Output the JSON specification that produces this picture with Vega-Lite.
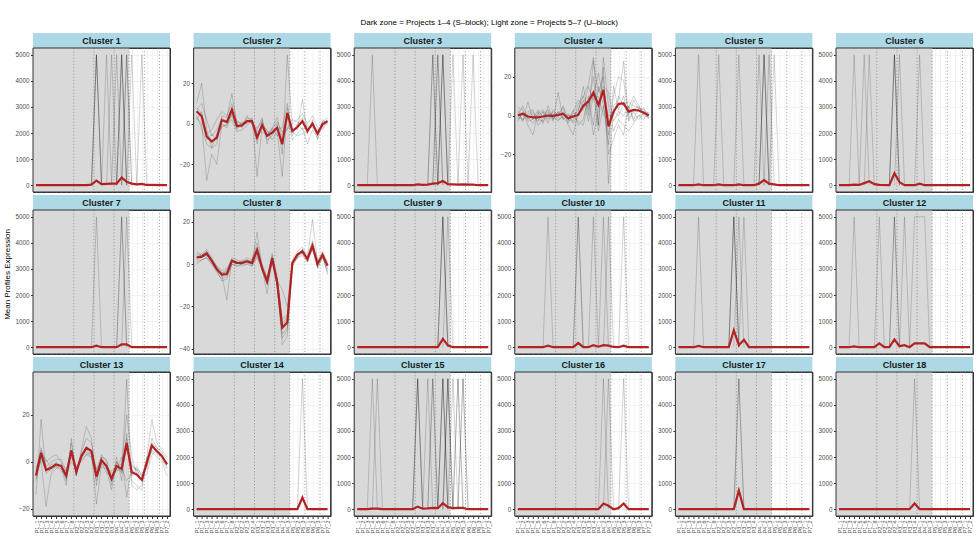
{
"$schema":"https://vega.github.io/schema/vega-lite/v6.json",
"background":"white",
"padding":{"left":3,"top":19,"right":3,"bottom":3},
"title":{"text":"Dark zone = Projects 1–4 (S–block); Light zone = Projects 5–7 (U–block)","fontSize":8,"fontWeight":"normal","color":"#000000","anchor":"middle","offset":6,"font":"Liberation Sans"},
"datasets":{
"zone":[{"x":-0.6,"x2":18.5}],
"frame":[{"x":-0.6,"x2":26.6}],
"sep":[{"x":7.5},{"x":11.5},{"x":15.5},{"x":18.5},{"x":21.5},{"x":24.5}],
"g":[
{"c":2,"g":1,"x":0,"y":10},{"c":2,"g":1,"x":1,"y":20},{"c":2,"g":1,"x":2,"y":-3},{"c":2,"g":1,"x":3,"y":-12},{"c":2,"g":1,"x":4,"y":-10},{"c":2,"g":1,"x":5,"y":4},{"c":2,"g":1,"x":6,"y":3},{"c":2,"g":1,"x":7,"y":15},{"c":2,"g":1,"x":8,"y":0},{"c":2,"g":1,"x":9,"y":-2},{"c":2,"g":1,"x":10,"y":3},{"c":2,"g":1,"x":11,"y":2},{"c":2,"g":1,"x":12,"y":-10},{"c":2,"g":1,"x":13,"y":2},{"c":2,"g":1,"x":14,"y":-8},{"c":2,"g":1,"x":15,"y":-6},{"c":2,"g":1,"x":16,"y":0},{"c":2,"g":1,"x":17,"y":-15},{"c":2,"g":1,"x":18,"y":34},{"c":2,"g":1,"x":19,"y":-2},{"c":2,"g":1,"x":20,"y":-3},{"c":2,"g":1,"x":21,"y":12},{"c":2,"g":1,"x":22,"y":-5},{"c":2,"g":1,"x":23,"y":2},{"c":2,"g":1,"x":24,"y":-8},{"c":2,"g":1,"x":25,"y":1},{"c":2,"g":1,"x":26,"y":3},
{"c":2,"g":2,"x":0,"y":3},{"c":2,"g":2,"x":1,"y":0},{"c":2,"g":2,"x":2,"y":-28},{"c":2,"g":2,"x":3,"y":-15},{"c":2,"g":2,"x":4,"y":-20},{"c":2,"g":2,"x":5,"y":0},{"c":2,"g":2,"x":6,"y":-2},{"c":2,"g":2,"x":7,"y":5},{"c":2,"g":2,"x":8,"y":-3},{"c":2,"g":2,"x":9,"y":1},{"c":2,"g":2,"x":10,"y":0},{"c":2,"g":2,"x":11,"y":3},{"c":2,"g":2,"x":12,"y":-26},{"c":2,"g":2,"x":13,"y":-1},{"c":2,"g":2,"x":14,"y":-3},{"c":2,"g":2,"x":15,"y":-8},{"c":2,"g":2,"x":16,"y":-4},{"c":2,"g":2,"x":17,"y":-26},{"c":2,"g":2,"x":18,"y":8},{"c":2,"g":2,"x":19,"y":-6},{"c":2,"g":2,"x":20,"y":0},{"c":2,"g":2,"x":21,"y":3},{"c":2,"g":2,"x":22,"y":-2},{"c":2,"g":2,"x":23,"y":-1},{"c":2,"g":2,"x":24,"y":-3},{"c":2,"g":2,"x":25,"y":-2},{"c":2,"g":2,"x":26,"y":2},
{"c":2,"g":3,"x":0,"y":8},{"c":2,"g":3,"x":1,"y":5},{"c":2,"g":3,"x":2,"y":-5},{"c":2,"g":3,"x":3,"y":-3},{"c":2,"g":3,"x":4,"y":2},{"c":2,"g":3,"x":5,"y":6},{"c":2,"g":3,"x":6,"y":4},{"c":2,"g":3,"x":7,"y":10},{"c":2,"g":3,"x":8,"y":1},{"c":2,"g":3,"x":9,"y":0},{"c":2,"g":3,"x":10,"y":2},{"c":2,"g":3,"x":11,"y":0},{"c":2,"g":3,"x":12,"y":-3},{"c":2,"g":3,"x":13,"y":3},{"c":2,"g":3,"x":14,"y":-10},{"c":2,"g":3,"x":15,"y":-2},{"c":2,"g":3,"x":16,"y":-6},{"c":2,"g":3,"x":17,"y":-5},{"c":2,"g":3,"x":18,"y":3},{"c":2,"g":3,"x":19,"y":-8},{"c":2,"g":3,"x":20,"y":-5},{"c":2,"g":3,"x":21,"y":-2},{"c":2,"g":3,"x":22,"y":-10},{"c":2,"g":3,"x":23,"y":-3},{"c":2,"g":3,"x":24,"y":-7},{"c":2,"g":3,"x":25,"y":2},{"c":2,"g":3,"x":26,"y":0},
{"c":2,"g":4,"x":0,"y":4},{"c":2,"g":4,"x":1,"y":-2},{"c":2,"g":4,"x":2,"y":-10},{"c":2,"g":4,"x":3,"y":-12},{"c":2,"g":4,"x":4,"y":-5},{"c":2,"g":4,"x":5,"y":-2},{"c":2,"g":4,"x":6,"y":0},{"c":2,"g":4,"x":7,"y":2},{"c":2,"g":4,"x":8,"y":-4},{"c":2,"g":4,"x":9,"y":-3},{"c":2,"g":4,"x":10,"y":-1},{"c":2,"g":4,"x":11,"y":2},{"c":2,"g":4,"x":12,"y":-5},{"c":2,"g":4,"x":13,"y":-4},{"c":2,"g":4,"x":14,"y":-6},{"c":2,"g":4,"x":15,"y":-2},{"c":2,"g":4,"x":16,"y":3},{"c":2,"g":4,"x":17,"y":-8},{"c":2,"g":4,"x":18,"y":-2},{"c":2,"g":4,"x":19,"y":0},{"c":2,"g":4,"x":20,"y":2},{"c":2,"g":4,"x":21,"y":5},{"c":2,"g":4,"x":22,"y":0},{"c":2,"g":4,"x":23,"y":4},{"c":2,"g":4,"x":24,"y":-2},{"c":2,"g":4,"x":25,"y":-3},{"c":2,"g":4,"x":26,"y":1},
{"c":2,"g":5,"x":0,"y":7},{"c":2,"g":5,"x":1,"y":10},{"c":2,"g":5,"x":2,"y":2},{"c":2,"g":5,"x":3,"y":-6},{"c":2,"g":5,"x":4,"y":-3},{"c":2,"g":5,"x":5,"y":3},{"c":2,"g":5,"x":6,"y":1},{"c":2,"g":5,"x":7,"y":4},{"c":2,"g":5,"x":8,"y":-2},{"c":2,"g":5,"x":9,"y":-1},{"c":2,"g":5,"x":10,"y":4},{"c":2,"g":5,"x":11,"y":0},{"c":2,"g":5,"x":12,"y":-2},{"c":2,"g":5,"x":13,"y":1},{"c":2,"g":5,"x":14,"y":-4},{"c":2,"g":5,"x":15,"y":-5},{"c":2,"g":5,"x":16,"y":-3},{"c":2,"g":5,"x":17,"y":-2},{"c":2,"g":5,"x":18,"y":10},{"c":2,"g":5,"x":19,"y":-4},{"c":2,"g":5,"x":20,"y":-6},{"c":2,"g":5,"x":21,"y":-5},{"c":2,"g":5,"x":22,"y":-4},{"c":2,"g":5,"x":23,"y":1},{"c":2,"g":5,"x":24,"y":-5},{"c":2,"g":5,"x":25,"y":0},{"c":2,"g":5,"x":26,"y":2},
{"c":2,"g":6,"x":0,"y":2},{"c":2,"g":6,"x":1,"y":6},{"c":2,"g":6,"x":2,"y":-8},{"c":2,"g":6,"x":3,"y":-5},{"c":2,"g":6,"x":4,"y":-8},{"c":2,"g":6,"x":5,"y":-1},{"c":2,"g":6,"x":6,"y":-1},{"c":2,"g":6,"x":7,"y":6},{"c":2,"g":6,"x":8,"y":1},{"c":2,"g":6,"x":9,"y":0},{"c":2,"g":6,"x":10,"y":1},{"c":2,"g":6,"x":11,"y":1},{"c":2,"g":6,"x":12,"y":-4},{"c":2,"g":6,"x":13,"y":-2},{"c":2,"g":6,"x":14,"y":-5},{"c":2,"g":6,"x":15,"y":-3},{"c":2,"g":6,"x":16,"y":1},{"c":2,"g":6,"x":17,"y":-4},{"c":2,"g":6,"x":18,"y":-3},{"c":2,"g":6,"x":19,"y":2},{"c":2,"g":6,"x":20,"y":1},{"c":2,"g":6,"x":21,"y":-3},{"c":2,"g":6,"x":22,"y":-1},{"c":2,"g":6,"x":23,"y":-2},{"c":2,"g":6,"x":24,"y":-4},{"c":2,"g":6,"x":25,"y":1},{"c":2,"g":6,"x":26,"y":1},
{"c":4,"g":1,"x":0,"y":2},{"c":4,"g":1,"x":1,"y":-3},{"c":4,"g":1,"x":2,"y":7},{"c":4,"g":1,"x":3,"y":-2},{"c":4,"g":1,"x":4,"y":3},{"c":4,"g":1,"x":5,"y":-1},{"c":4,"g":1,"x":6,"y":2},{"c":4,"g":1,"x":7,"y":-3},{"c":4,"g":1,"x":8,"y":12},{"c":4,"g":1,"x":9,"y":-2},{"c":4,"g":1,"x":10,"y":0},{"c":4,"g":1,"x":11,"y":-1},{"c":4,"g":1,"x":12,"y":3},{"c":4,"g":1,"x":13,"y":10},{"c":4,"g":1,"x":14,"y":16},{"c":4,"g":1,"x":15,"y":30},{"c":4,"g":1,"x":16,"y":-5},{"c":4,"g":1,"x":17,"y":25},{"c":4,"g":1,"x":18,"y":-35},{"c":4,"g":1,"x":19,"y":5},{"c":4,"g":1,"x":20,"y":8},{"c":4,"g":1,"x":21,"y":28},{"c":4,"g":1,"x":22,"y":-2},{"c":4,"g":1,"x":23,"y":3},{"c":4,"g":1,"x":24,"y":5},{"c":4,"g":1,"x":25,"y":2},{"c":4,"g":1,"x":26,"y":1},
{"c":4,"g":2,"x":0,"y":-3},{"c":4,"g":2,"x":1,"y":2},{"c":4,"g":2,"x":2,"y":-5},{"c":4,"g":2,"x":3,"y":-10},{"c":4,"g":2,"x":4,"y":2},{"c":4,"g":2,"x":5,"y":-4},{"c":4,"g":2,"x":6,"y":5},{"c":4,"g":2,"x":7,"y":-2},{"c":4,"g":2,"x":8,"y":1},{"c":4,"g":2,"x":9,"y":4},{"c":4,"g":2,"x":10,"y":-5},{"c":4,"g":2,"x":11,"y":-10},{"c":4,"g":2,"x":12,"y":2},{"c":4,"g":2,"x":13,"y":15},{"c":4,"g":2,"x":14,"y":0},{"c":4,"g":2,"x":15,"y":28},{"c":4,"g":2,"x":16,"y":12},{"c":4,"g":2,"x":17,"y":20},{"c":4,"g":2,"x":18,"y":-20},{"c":4,"g":2,"x":19,"y":-12},{"c":4,"g":2,"x":20,"y":-5},{"c":4,"g":2,"x":21,"y":-10},{"c":4,"g":2,"x":22,"y":5},{"c":4,"g":2,"x":23,"y":-3},{"c":4,"g":2,"x":24,"y":0},{"c":4,"g":2,"x":25,"y":1},{"c":4,"g":2,"x":26,"y":-1},
{"c":4,"g":3,"x":0,"y":0},{"c":4,"g":3,"x":1,"y":5},{"c":4,"g":3,"x":2,"y":-2},{"c":4,"g":3,"x":3,"y":0},{"c":4,"g":3,"x":4,"y":-3},{"c":4,"g":3,"x":5,"y":2},{"c":4,"g":3,"x":6,"y":-4},{"c":4,"g":3,"x":7,"y":3},{"c":4,"g":3,"x":8,"y":0},{"c":4,"g":3,"x":9,"y":2},{"c":4,"g":3,"x":10,"y":-3},{"c":4,"g":3,"x":11,"y":3},{"c":4,"g":3,"x":12,"y":-5},{"c":4,"g":3,"x":13,"y":-2},{"c":4,"g":3,"x":14,"y":10},{"c":4,"g":3,"x":15,"y":-5},{"c":4,"g":3,"x":16,"y":15},{"c":4,"g":3,"x":17,"y":5},{"c":4,"g":3,"x":18,"y":-10},{"c":4,"g":3,"x":19,"y":10},{"c":4,"g":3,"x":20,"y":20},{"c":4,"g":3,"x":21,"y":18},{"c":4,"g":3,"x":22,"y":0},{"c":4,"g":3,"x":23,"y":8},{"c":4,"g":3,"x":24,"y":3},{"c":4,"g":3,"x":25,"y":4},{"c":4,"g":3,"x":26,"y":-2},
{"c":4,"g":4,"x":0,"y":3},{"c":4,"g":4,"x":1,"y":0},{"c":4,"g":4,"x":2,"y":2},{"c":4,"g":4,"x":3,"y":3},{"c":4,"g":4,"x":4,"y":-5},{"c":4,"g":4,"x":5,"y":-2},{"c":4,"g":4,"x":6,"y":1},{"c":4,"g":4,"x":7,"y":0},{"c":4,"g":4,"x":8,"y":-3},{"c":4,"g":4,"x":9,"y":1},{"c":4,"g":4,"x":10,"y":-2},{"c":4,"g":4,"x":11,"y":2},{"c":4,"g":4,"x":12,"y":8},{"c":4,"g":4,"x":13,"y":5},{"c":4,"g":4,"x":14,"y":5},{"c":4,"g":4,"x":15,"y":20},{"c":4,"g":4,"x":16,"y":-5},{"c":4,"g":4,"x":17,"y":30},{"c":4,"g":4,"x":18,"y":5},{"c":4,"g":4,"x":19,"y":-8},{"c":4,"g":4,"x":20,"y":-2},{"c":4,"g":4,"x":21,"y":-5},{"c":4,"g":4,"x":22,"y":-8},{"c":4,"g":4,"x":23,"y":-4},{"c":4,"g":4,"x":24,"y":0},{"c":4,"g":4,"x":25,"y":-2},{"c":4,"g":4,"x":26,"y":2},
{"c":4,"g":5,"x":0,"y":-2},{"c":4,"g":5,"x":1,"y":1},{"c":4,"g":5,"x":2,"y":-1},{"c":4,"g":5,"x":3,"y":-4},{"c":4,"g":5,"x":4,"y":0},{"c":4,"g":5,"x":5,"y":2},{"c":4,"g":5,"x":6,"y":-2},{"c":4,"g":5,"x":7,"y":1},{"c":4,"g":5,"x":8,"y":-2},{"c":4,"g":5,"x":9,"y":-1},{"c":4,"g":5,"x":10,"y":1},{"c":4,"g":5,"x":11,"y":-4},{"c":4,"g":5,"x":12,"y":0},{"c":4,"g":5,"x":13,"y":8},{"c":4,"g":5,"x":14,"y":-3},{"c":4,"g":5,"x":15,"y":10},{"c":4,"g":5,"x":16,"y":22},{"c":4,"g":5,"x":17,"y":8},{"c":4,"g":5,"x":18,"y":0},{"c":4,"g":5,"x":19,"y":0},{"c":4,"g":5,"x":20,"y":10},{"c":4,"g":5,"x":21,"y":5},{"c":4,"g":5,"x":22,"y":4},{"c":4,"g":5,"x":23,"y":10},{"c":4,"g":5,"x":24,"y":5},{"c":4,"g":5,"x":25,"y":0},{"c":4,"g":5,"x":26,"y":-1},
{"c":4,"g":6,"x":0,"y":1},{"c":4,"g":6,"x":1,"y":-2},{"c":4,"g":6,"x":2,"y":0},{"c":4,"g":6,"x":3,"y":1},{"c":4,"g":6,"x":4,"y":-2},{"c":4,"g":6,"x":5,"y":-3},{"c":4,"g":6,"x":6,"y":0},{"c":4,"g":6,"x":7,"y":-1},{"c":4,"g":6,"x":8,"y":2},{"c":4,"g":6,"x":9,"y":-2},{"c":4,"g":6,"x":10,"y":0},{"c":4,"g":6,"x":11,"y":0},{"c":4,"g":6,"x":12,"y":-3},{"c":4,"g":6,"x":13,"y":-5},{"c":4,"g":6,"x":14,"y":8},{"c":4,"g":6,"x":15,"y":-10},{"c":4,"g":6,"x":16,"y":2},{"c":4,"g":6,"x":17,"y":15},{"c":4,"g":6,"x":18,"y":12},{"c":4,"g":6,"x":19,"y":-3},{"c":4,"g":6,"x":20,"y":2},{"c":4,"g":6,"x":21,"y":0},{"c":4,"g":6,"x":22,"y":5},{"c":4,"g":6,"x":23,"y":-2},{"c":4,"g":6,"x":24,"y":4},{"c":4,"g":6,"x":25,"y":3},{"c":4,"g":6,"x":26,"y":1},
{"c":4,"g":7,"x":0,"y":4},{"c":4,"g":7,"x":1,"y":3},{"c":4,"g":7,"x":2,"y":-3},{"c":4,"g":7,"x":3,"y":-2},{"c":4,"g":7,"x":4,"y":1},{"c":4,"g":7,"x":5,"y":3},{"c":4,"g":7,"x":6,"y":-1},{"c":4,"g":7,"x":7,"y":2},{"c":4,"g":7,"x":8,"y":-1},{"c":4,"g":7,"x":9,"y":5},{"c":4,"g":7,"x":10,"y":-2},{"c":4,"g":7,"x":11,"y":-3},{"c":4,"g":7,"x":12,"y":6},{"c":4,"g":7,"x":13,"y":10},{"c":4,"g":7,"x":14,"y":3},{"c":4,"g":7,"x":15,"y":12},{"c":4,"g":7,"x":16,"y":-8},{"c":4,"g":7,"x":17,"y":5},{"c":4,"g":7,"x":18,"y":-15},{"c":4,"g":7,"x":19,"y":15},{"c":4,"g":7,"x":20,"y":3},{"c":4,"g":7,"x":21,"y":10},{"c":4,"g":7,"x":22,"y":-3},{"c":4,"g":7,"x":23,"y":2},{"c":4,"g":7,"x":24,"y":-2},{"c":4,"g":7,"x":25,"y":1},{"c":4,"g":7,"x":26,"y":0},
{"c":4,"g":8,"x":0,"y":-1},{"c":4,"g":8,"x":1,"y":-2},{"c":4,"g":8,"x":2,"y":1},{"c":4,"g":8,"x":3,"y":2},{"c":4,"g":8,"x":4,"y":-1},{"c":4,"g":8,"x":5,"y":0},{"c":4,"g":8,"x":6,"y":3},{"c":4,"g":8,"x":7,"y":-2},{"c":4,"g":8,"x":8,"y":2},{"c":4,"g":8,"x":9,"y":-1},{"c":4,"g":8,"x":10,"y":-4},{"c":4,"g":8,"x":11,"y":1},{"c":4,"g":8,"x":12,"y":1},{"c":4,"g":8,"x":13,"y":3},{"c":4,"g":8,"x":14,"y":15},{"c":4,"g":8,"x":15,"y":8},{"c":4,"g":8,"x":16,"y":10},{"c":4,"g":8,"x":17,"y":0},{"c":4,"g":8,"x":18,"y":-2},{"c":4,"g":8,"x":19,"y":2},{"c":4,"g":8,"x":20,"y":0},{"c":4,"g":8,"x":21,"y":6},{"c":4,"g":8,"x":22,"y":7},{"c":4,"g":8,"x":23,"y":5},{"c":4,"g":8,"x":24,"y":4},{"c":4,"g":8,"x":25,"y":2},{"c":4,"g":8,"x":26,"y":0},
{"c":8,"g":1,"x":0,"y":5},{"c":8,"g":1,"x":1,"y":4},{"c":8,"g":1,"x":2,"y":7},{"c":8,"g":1,"x":3,"y":3},{"c":8,"g":1,"x":4,"y":-1},{"c":8,"g":1,"x":5,"y":-4},{"c":8,"g":1,"x":6,"y":-3},{"c":8,"g":1,"x":7,"y":3},{"c":8,"g":1,"x":8,"y":2},{"c":8,"g":1,"x":9,"y":1},{"c":8,"g":1,"x":10,"y":3},{"c":8,"g":1,"x":11,"y":2},{"c":8,"g":1,"x":12,"y":10},{"c":8,"g":1,"x":13,"y":0},{"c":8,"g":1,"x":14,"y":-6},{"c":8,"g":1,"x":15,"y":5},{"c":8,"g":1,"x":16,"y":-6},{"c":8,"g":1,"x":17,"y":-28},{"c":8,"g":1,"x":18,"y":-25},{"c":8,"g":1,"x":19,"y":2},{"c":8,"g":1,"x":20,"y":6},{"c":8,"g":1,"x":21,"y":8},{"c":8,"g":1,"x":22,"y":4},{"c":8,"g":1,"x":23,"y":11},{"c":8,"g":1,"x":24,"y":2},{"c":8,"g":1,"x":25,"y":6},{"c":8,"g":1,"x":26,"y":1},
{"c":8,"g":2,"x":0,"y":1},{"c":8,"g":2,"x":1,"y":2},{"c":8,"g":2,"x":2,"y":3},{"c":8,"g":2,"x":3,"y":0},{"c":8,"g":2,"x":4,"y":-4},{"c":8,"g":2,"x":5,"y":-7},{"c":8,"g":2,"x":6,"y":-6},{"c":8,"g":2,"x":7,"y":0},{"c":8,"g":2,"x":8,"y":-1},{"c":8,"g":2,"x":9,"y":0},{"c":8,"g":2,"x":10,"y":0},{"c":8,"g":2,"x":11,"y":-1},{"c":8,"g":2,"x":12,"y":4},{"c":8,"g":2,"x":13,"y":-3},{"c":8,"g":2,"x":14,"y":-10},{"c":8,"g":2,"x":15,"y":1},{"c":8,"g":2,"x":16,"y":-11},{"c":8,"g":2,"x":17,"y":-33},{"c":8,"g":2,"x":18,"y":-30},{"c":8,"g":2,"x":19,"y":-1},{"c":8,"g":2,"x":20,"y":3},{"c":8,"g":2,"x":21,"y":4},{"c":8,"g":2,"x":22,"y":1},{"c":8,"g":2,"x":23,"y":7},{"c":8,"g":2,"x":24,"y":-2},{"c":8,"g":2,"x":25,"y":3},{"c":8,"g":2,"x":26,"y":-3},
{"c":8,"g":3,"x":0,"y":3},{"c":8,"g":3,"x":1,"y":4},{"c":8,"g":3,"x":2,"y":6},{"c":8,"g":3,"x":3,"y":2},{"c":8,"g":3,"x":4,"y":-3},{"c":8,"g":3,"x":5,"y":-5},{"c":8,"g":3,"x":6,"y":-17},{"c":8,"g":3,"x":7,"y":2},{"c":8,"g":3,"x":8,"y":1},{"c":8,"g":3,"x":9,"y":1},{"c":8,"g":3,"x":10,"y":2},{"c":8,"g":3,"x":11,"y":1},{"c":8,"g":3,"x":12,"y":15},{"c":8,"g":3,"x":13,"y":-2},{"c":8,"g":3,"x":14,"y":-14},{"c":8,"g":3,"x":15,"y":3},{"c":8,"g":3,"x":16,"y":-9},{"c":8,"g":3,"x":17,"y":-38},{"c":8,"g":3,"x":18,"y":-34},{"c":8,"g":3,"x":19,"y":0},{"c":8,"g":3,"x":20,"y":5},{"c":8,"g":3,"x":21,"y":6},{"c":8,"g":3,"x":22,"y":2},{"c":8,"g":3,"x":23,"y":9},{"c":8,"g":3,"x":24,"y":-1},{"c":8,"g":3,"x":25,"y":5},{"c":8,"g":3,"x":26,"y":-1},
{"c":8,"g":4,"x":0,"y":4},{"c":8,"g":4,"x":1,"y":3},{"c":8,"g":4,"x":2,"y":5},{"c":8,"g":4,"x":3,"y":1},{"c":8,"g":4,"x":4,"y":-2},{"c":8,"g":4,"x":5,"y":-4},{"c":8,"g":4,"x":6,"y":-4},{"c":8,"g":4,"x":7,"y":1},{"c":8,"g":4,"x":8,"y":0},{"c":8,"g":4,"x":9,"y":2},{"c":8,"g":4,"x":10,"y":1},{"c":8,"g":4,"x":11,"y":0},{"c":8,"g":4,"x":12,"y":5},{"c":8,"g":4,"x":13,"y":-1},{"c":8,"g":4,"x":14,"y":-7},{"c":8,"g":4,"x":15,"y":2},{"c":8,"g":4,"x":16,"y":-8},{"c":8,"g":4,"x":17,"y":-12},{"c":8,"g":4,"x":18,"y":-20},{"c":8,"g":4,"x":19,"y":1},{"c":8,"g":4,"x":20,"y":4},{"c":8,"g":4,"x":21,"y":7},{"c":8,"g":4,"x":22,"y":3},{"c":8,"g":4,"x":23,"y":21},{"c":8,"g":4,"x":24,"y":1},{"c":8,"g":4,"x":25,"y":4},{"c":8,"g":4,"x":26,"y":0},
{"c":8,"g":5,"x":0,"y":2},{"c":8,"g":5,"x":1,"y":3},{"c":8,"g":5,"x":2,"y":4},{"c":8,"g":5,"x":3,"y":2},{"c":8,"g":5,"x":4,"y":-2},{"c":8,"g":5,"x":5,"y":-6},{"c":8,"g":5,"x":6,"y":-5},{"c":8,"g":5,"x":7,"y":2},{"c":8,"g":5,"x":8,"y":1},{"c":8,"g":5,"x":9,"y":0},{"c":8,"g":5,"x":10,"y":2},{"c":8,"g":5,"x":11,"y":1},{"c":8,"g":5,"x":12,"y":7},{"c":8,"g":5,"x":13,"y":-2},{"c":8,"g":5,"x":14,"y":-8},{"c":8,"g":5,"x":15,"y":4},{"c":8,"g":5,"x":16,"y":-9},{"c":8,"g":5,"x":17,"y":-31},{"c":8,"g":5,"x":18,"y":-28},{"c":8,"g":5,"x":19,"y":0},{"c":8,"g":5,"x":20,"y":4},{"c":8,"g":5,"x":21,"y":6},{"c":8,"g":5,"x":22,"y":2},{"c":8,"g":5,"x":23,"y":8},{"c":8,"g":5,"x":24,"y":0},{"c":8,"g":5,"x":25,"y":4},{"c":8,"g":5,"x":26,"y":-4},
{"c":8,"g":6,"x":0,"y":3},{"c":8,"g":6,"x":1,"y":5},{"c":8,"g":6,"x":2,"y":4},{"c":8,"g":6,"x":3,"y":1},{"c":8,"g":6,"x":4,"y":-3},{"c":8,"g":6,"x":5,"y":-5},{"c":8,"g":6,"x":6,"y":-3},{"c":8,"g":6,"x":7,"y":1},{"c":8,"g":6,"x":8,"y":0},{"c":8,"g":6,"x":9,"y":1},{"c":8,"g":6,"x":10,"y":1},{"c":8,"g":6,"x":11,"y":0},{"c":8,"g":6,"x":12,"y":6},{"c":8,"g":6,"x":13,"y":-1},{"c":8,"g":6,"x":14,"y":-9},{"c":8,"g":6,"x":15,"y":3},{"c":8,"g":6,"x":16,"y":-7},{"c":8,"g":6,"x":17,"y":-29},{"c":8,"g":6,"x":18,"y":-26},{"c":8,"g":6,"x":19,"y":1},{"c":8,"g":6,"x":20,"y":5},{"c":8,"g":6,"x":21,"y":5},{"c":8,"g":6,"x":22,"y":3},{"c":8,"g":6,"x":23,"y":9},{"c":8,"g":6,"x":24,"y":1},{"c":8,"g":6,"x":25,"y":5},{"c":8,"g":6,"x":26,"y":-2},
{"c":8,"g":7,"x":0,"y":6},{"c":8,"g":7,"x":1,"y":4},{"c":8,"g":7,"x":2,"y":6},{"c":8,"g":7,"x":3,"y":2},{"c":8,"g":7,"x":4,"y":-1},{"c":8,"g":7,"x":5,"y":-3},{"c":8,"g":7,"x":6,"y":-2},{"c":8,"g":7,"x":7,"y":2},{"c":8,"g":7,"x":8,"y":1},{"c":8,"g":7,"x":9,"y":-1},{"c":8,"g":7,"x":10,"y":0},{"c":8,"g":7,"x":11,"y":2},{"c":8,"g":7,"x":12,"y":8},{"c":8,"g":7,"x":13,"y":-3},{"c":8,"g":7,"x":14,"y":-7},{"c":8,"g":7,"x":15,"y":2},{"c":8,"g":7,"x":16,"y":-10},{"c":8,"g":7,"x":17,"y":-35},{"c":8,"g":7,"x":18,"y":-31},{"c":8,"g":7,"x":19,"y":0},{"c":8,"g":7,"x":20,"y":3},{"c":8,"g":7,"x":21,"y":7},{"c":8,"g":7,"x":22,"y":2},{"c":8,"g":7,"x":23,"y":10},{"c":8,"g":7,"x":24,"y":-2},{"c":8,"g":7,"x":25,"y":3},{"c":8,"g":7,"x":26,"y":0},
{"c":8,"g":8,"x":0,"y":0},{"c":8,"g":8,"x":1,"y":2},{"c":8,"g":8,"x":2,"y":3},{"c":8,"g":8,"x":3,"y":0},{"c":8,"g":8,"x":4,"y":-3},{"c":8,"g":8,"x":5,"y":-8},{"c":8,"g":8,"x":6,"y":-7},{"c":8,"g":8,"x":7,"y":0},{"c":8,"g":8,"x":8,"y":-1},{"c":8,"g":8,"x":9,"y":0},{"c":8,"g":8,"x":10,"y":1},{"c":8,"g":8,"x":11,"y":-1},{"c":8,"g":8,"x":12,"y":3},{"c":8,"g":8,"x":13,"y":-2},{"c":8,"g":8,"x":14,"y":-9},{"c":8,"g":8,"x":15,"y":1},{"c":8,"g":8,"x":16,"y":-8},{"c":8,"g":8,"x":17,"y":-26},{"c":8,"g":8,"x":18,"y":-24},{"c":8,"g":8,"x":19,"y":-1},{"c":8,"g":8,"x":20,"y":3},{"c":8,"g":8,"x":21,"y":5},{"c":8,"g":8,"x":22,"y":1},{"c":8,"g":8,"x":23,"y":7},{"c":8,"g":8,"x":24,"y":0},{"c":8,"g":8,"x":25,"y":4},{"c":8,"g":8,"x":26,"y":-5},
{"c":13,"g":1,"x":0,"y":-14},{"c":13,"g":1,"x":1,"y":18},{"c":13,"g":1,"x":2,"y":-5},{"c":13,"g":1,"x":3,"y":-3},{"c":13,"g":1,"x":4,"y":0},{"c":13,"g":1,"x":5,"y":-2},{"c":13,"g":1,"x":6,"y":-10},{"c":13,"g":1,"x":7,"y":10},{"c":13,"g":1,"x":8,"y":-6},{"c":13,"g":1,"x":9,"y":5},{"c":13,"g":1,"x":10,"y":15},{"c":13,"g":1,"x":11,"y":10},{"c":13,"g":1,"x":12,"y":-10},{"c":13,"g":1,"x":13,"y":2},{"c":13,"g":1,"x":14,"y":-3},{"c":13,"g":1,"x":15,"y":-12},{"c":13,"g":1,"x":16,"y":0},{"c":13,"g":1,"x":17,"y":-5},{"c":13,"g":1,"x":18,"y":35},{"c":13,"g":1,"x":19,"y":-8},{"c":13,"g":1,"x":20,"y":-10},{"c":13,"g":1,"x":21,"y":-12},{"c":13,"g":1,"x":22,"y":2},{"c":13,"g":1,"x":23,"y":18},{"c":13,"g":1,"x":24,"y":8},{"c":13,"g":1,"x":25,"y":5},{"c":13,"g":1,"x":26,"y":2},
{"c":13,"g":2,"x":0,"y":-2},{"c":13,"g":2,"x":1,"y":0},{"c":13,"g":2,"x":2,"y":-19},{"c":13,"g":2,"x":3,"y":-5},{"c":13,"g":2,"x":4,"y":-3},{"c":13,"g":2,"x":5,"y":-1},{"c":13,"g":2,"x":6,"y":-3},{"c":13,"g":2,"x":7,"y":2},{"c":13,"g":2,"x":8,"y":-2},{"c":13,"g":2,"x":9,"y":0},{"c":13,"g":2,"x":10,"y":3},{"c":13,"g":2,"x":11,"y":4},{"c":13,"g":2,"x":12,"y":-18},{"c":13,"g":2,"x":13,"y":-1},{"c":13,"g":2,"x":14,"y":-2},{"c":13,"g":2,"x":15,"y":-5},{"c":13,"g":2,"x":16,"y":-3},{"c":13,"g":2,"x":17,"y":2},{"c":13,"g":2,"x":18,"y":-15},{"c":13,"g":2,"x":19,"y":-2},{"c":13,"g":2,"x":20,"y":-3},{"c":13,"g":2,"x":21,"y":-5},{"c":13,"g":2,"x":22,"y":-3},{"c":13,"g":2,"x":23,"y":5},{"c":13,"g":2,"x":24,"y":3},{"c":13,"g":2,"x":25,"y":1},{"c":13,"g":2,"x":26,"y":-3},
{"c":13,"g":3,"x":0,"y":-6},{"c":13,"g":3,"x":1,"y":5},{"c":13,"g":3,"x":2,"y":0},{"c":13,"g":3,"x":3,"y":2},{"c":13,"g":3,"x":4,"y":3},{"c":13,"g":3,"x":5,"y":0},{"c":13,"g":3,"x":6,"y":-8},{"c":13,"g":3,"x":7,"y":8},{"c":13,"g":3,"x":8,"y":-5},{"c":13,"g":3,"x":9,"y":4},{"c":13,"g":3,"x":10,"y":10},{"c":13,"g":3,"x":11,"y":8},{"c":13,"g":3,"x":12,"y":-5},{"c":13,"g":3,"x":13,"y":3},{"c":13,"g":3,"x":14,"y":0},{"c":13,"g":3,"x":15,"y":-10},{"c":13,"g":3,"x":16,"y":2},{"c":13,"g":3,"x":17,"y":-8},{"c":13,"g":3,"x":18,"y":12},{"c":13,"g":3,"x":19,"y":-10},{"c":13,"g":3,"x":20,"y":-12},{"c":13,"g":3,"x":21,"y":-10},{"c":13,"g":3,"x":22,"y":0},{"c":13,"g":3,"x":23,"y":10},{"c":13,"g":3,"x":24,"y":6},{"c":13,"g":3,"x":25,"y":3},{"c":13,"g":3,"x":26,"y":-2},
{"c":13,"g":4,"x":0,"y":-8},{"c":13,"g":4,"x":1,"y":2},{"c":13,"g":4,"x":2,"y":-3},{"c":13,"g":4,"x":3,"y":-4},{"c":13,"g":4,"x":4,"y":-2},{"c":13,"g":4,"x":5,"y":-4},{"c":13,"g":4,"x":6,"y":-6},{"c":13,"g":4,"x":7,"y":0},{"c":13,"g":4,"x":8,"y":-3},{"c":13,"g":4,"x":9,"y":2},{"c":13,"g":4,"x":10,"y":4},{"c":13,"g":4,"x":11,"y":2},{"c":13,"g":4,"x":12,"y":-8},{"c":13,"g":4,"x":13,"y":0},{"c":13,"g":4,"x":14,"y":-5},{"c":13,"g":4,"x":15,"y":-6},{"c":13,"g":4,"x":16,"y":-4},{"c":13,"g":4,"x":17,"y":-2},{"c":13,"g":4,"x":18,"y":20},{"c":13,"g":4,"x":19,"y":2},{"c":13,"g":4,"x":20,"y":-5},{"c":13,"g":4,"x":21,"y":-8},{"c":13,"g":4,"x":22,"y":2},{"c":13,"g":4,"x":23,"y":4},{"c":13,"g":4,"x":24,"y":2},{"c":13,"g":4,"x":25,"y":0},{"c":13,"g":4,"x":26,"y":-6},
{"c":13,"g":5,"x":0,"y":-4},{"c":13,"g":5,"x":1,"y":6},{"c":13,"g":5,"x":2,"y":-2},{"c":13,"g":5,"x":3,"y":0},{"c":13,"g":5,"x":4,"y":1},{"c":13,"g":5,"x":5,"y":1},{"c":13,"g":5,"x":6,"y":-4},{"c":13,"g":5,"x":7,"y":5},{"c":13,"g":5,"x":8,"y":-6},{"c":13,"g":5,"x":9,"y":3},{"c":13,"g":5,"x":10,"y":6},{"c":13,"g":5,"x":11,"y":5},{"c":13,"g":5,"x":12,"y":-3},{"c":13,"g":5,"x":13,"y":2},{"c":13,"g":5,"x":14,"y":1},{"c":13,"g":5,"x":15,"y":-8},{"c":13,"g":5,"x":16,"y":0},{"c":13,"g":5,"x":17,"y":-3},{"c":13,"g":5,"x":18,"y":-8},{"c":13,"g":5,"x":19,"y":-5},{"c":13,"g":5,"x":20,"y":-2},{"c":13,"g":5,"x":21,"y":-6},{"c":13,"g":5,"x":22,"y":-2},{"c":13,"g":5,"x":23,"y":8},{"c":13,"g":5,"x":24,"y":6},{"c":13,"g":5,"x":25,"y":4},{"c":13,"g":5,"x":26,"y":1},
{"c":13,"g":6,"x":0,"y":-3},{"c":13,"g":6,"x":1,"y":3},{"c":13,"g":6,"x":2,"y":1},{"c":13,"g":6,"x":3,"y":-3},{"c":13,"g":6,"x":4,"y":-2},{"c":13,"g":6,"x":5,"y":-3},{"c":13,"g":6,"x":6,"y":-7},{"c":13,"g":6,"x":7,"y":4},{"c":13,"g":6,"x":8,"y":-3},{"c":13,"g":6,"x":9,"y":1},{"c":13,"g":6,"x":10,"y":3},{"c":13,"g":6,"x":11,"y":2},{"c":13,"g":6,"x":12,"y":-6},{"c":13,"g":6,"x":13,"y":-2},{"c":13,"g":6,"x":14,"y":-3},{"c":13,"g":6,"x":15,"y":-4},{"c":13,"g":6,"x":16,"y":-2},{"c":13,"g":6,"x":17,"y":-1},{"c":13,"g":6,"x":18,"y":10},{"c":13,"g":6,"x":19,"y":-6},{"c":13,"g":6,"x":20,"y":-3},{"c":13,"g":6,"x":21,"y":-8},{"c":13,"g":6,"x":22,"y":-5},{"c":13,"g":6,"x":23,"y":3},{"c":13,"g":6,"x":24,"y":5},{"c":13,"g":6,"x":25,"y":3},{"c":13,"g":6,"x":26,"y":-1},
{"c":13,"g":7,"x":0,"y":-7},{"c":13,"g":7,"x":1,"y":1},{"c":13,"g":7,"x":2,"y":-4},{"c":13,"g":7,"x":3,"y":-1},{"c":13,"g":7,"x":4,"y":-1},{"c":13,"g":7,"x":5,"y":-2},{"c":13,"g":7,"x":6,"y":-4},{"c":13,"g":7,"x":7,"y":5},{"c":13,"g":7,"x":8,"y":-5},{"c":13,"g":7,"x":9,"y":2},{"c":13,"g":7,"x":10,"y":5},{"c":13,"g":7,"x":11,"y":3},{"c":13,"g":7,"x":12,"y":-4},{"c":13,"g":7,"x":13,"y":1},{"c":13,"g":7,"x":14,"y":-2},{"c":13,"g":7,"x":15,"y":-8},{"c":13,"g":7,"x":16,"y":-3},{"c":13,"g":7,"x":17,"y":-4},{"c":13,"g":7,"x":18,"y":5},{"c":13,"g":7,"x":19,"y":-1},{"c":13,"g":7,"x":20,"y":-4},{"c":13,"g":7,"x":21,"y":-6},{"c":13,"g":7,"x":22,"y":1},{"c":13,"g":7,"x":23,"y":6},{"c":13,"g":7,"x":24,"y":4},{"c":13,"g":7,"x":25,"y":2},{"c":13,"g":7,"x":26,"y":0},
{"c":1,"g":1,"x":11,"y":0},{"c":1,"g":1,"x":12,"y":5000},{"c":1,"g":1,"x":13,"y":0},
{"c":1,"g":2,"x":11,"y":0},{"c":1,"g":2,"x":12,"y":5000},{"c":1,"g":2,"x":13,"y":0},
{"c":1,"g":3,"x":11,"y":0},{"c":1,"g":3,"x":12,"y":5000},{"c":1,"g":3,"x":13,"y":0},
{"c":1,"g":4,"x":13,"y":0},{"c":1,"g":4,"x":14,"y":5000},{"c":1,"g":4,"x":15,"y":0},
{"c":1,"g":5,"x":14,"y":0},{"c":1,"g":5,"x":15,"y":5000},{"c":1,"g":5,"x":16,"y":0},
{"c":1,"g":6,"x":15,"y":0},{"c":1,"g":6,"x":16,"y":5000},{"c":1,"g":6,"x":17,"y":0},
{"c":1,"g":7,"x":16,"y":0},{"c":1,"g":7,"x":17,"y":5000},{"c":1,"g":7,"x":18,"y":0},
{"c":1,"g":8,"x":16,"y":0},{"c":1,"g":8,"x":17,"y":5000},{"c":1,"g":8,"x":18,"y":0},
{"c":1,"g":9,"x":16,"y":0},{"c":1,"g":9,"x":17,"y":5000},{"c":1,"g":9,"x":18,"y":0},
{"c":1,"g":10,"x":17,"y":0},{"c":1,"g":10,"x":18,"y":5000},{"c":1,"g":10,"x":19,"y":0},
{"c":1,"g":11,"x":17,"y":0},{"c":1,"g":11,"x":18,"y":5000},{"c":1,"g":11,"x":19,"y":0},
{"c":1,"g":12,"x":18,"y":0},{"c":1,"g":12,"x":19,"y":5000},{"c":1,"g":12,"x":20,"y":0},
{"c":1,"g":13,"x":20,"y":0},{"c":1,"g":13,"x":21,"y":5000},{"c":1,"g":13,"x":22,"y":0},
{"c":3,"g":1,"x":2,"y":0},{"c":3,"g":1,"x":3,"y":5000},{"c":3,"g":1,"x":4,"y":0},
{"c":3,"g":2,"x":14,"y":0},{"c":3,"g":2,"x":15,"y":5000},{"c":3,"g":2,"x":16,"y":0},
{"c":3,"g":3,"x":14,"y":0},{"c":3,"g":3,"x":15,"y":5000},{"c":3,"g":3,"x":16,"y":0},
{"c":3,"g":4,"x":15,"y":0},{"c":3,"g":4,"x":16,"y":5000},{"c":3,"g":4,"x":17,"y":0},
{"c":3,"g":5,"x":15,"y":0},{"c":3,"g":5,"x":16,"y":5000},{"c":3,"g":5,"x":17,"y":0},
{"c":3,"g":6,"x":16,"y":0},{"c":3,"g":6,"x":17,"y":5000},{"c":3,"g":6,"x":18,"y":0},
{"c":3,"g":7,"x":16,"y":0},{"c":3,"g":7,"x":17,"y":5000},{"c":3,"g":7,"x":18,"y":0},
{"c":3,"g":8,"x":16,"y":0},{"c":3,"g":8,"x":17,"y":5000},{"c":3,"g":8,"x":18,"y":0},
{"c":3,"g":9,"x":18,"y":0},{"c":3,"g":9,"x":19,"y":5000},{"c":3,"g":9,"x":20,"y":0},
{"c":3,"g":10,"x":20,"y":0},{"c":3,"g":10,"x":21,"y":5000},{"c":3,"g":10,"x":22,"y":0},
{"c":3,"g":11,"x":22,"y":0},{"c":3,"g":11,"x":23,"y":5000},{"c":3,"g":11,"x":24,"y":0},
{"c":5,"g":1,"x":3,"y":0},{"c":5,"g":1,"x":4,"y":5000},{"c":5,"g":1,"x":5,"y":0},
{"c":5,"g":2,"x":7,"y":0},{"c":5,"g":2,"x":8,"y":5000},{"c":5,"g":2,"x":9,"y":0},
{"c":5,"g":3,"x":11,"y":0},{"c":5,"g":3,"x":12,"y":5000},{"c":5,"g":3,"x":13,"y":0},
{"c":5,"g":4,"x":15,"y":0},{"c":5,"g":4,"x":16,"y":5000},{"c":5,"g":4,"x":17,"y":0},
{"c":5,"g":5,"x":16,"y":0},{"c":5,"g":5,"x":17,"y":5000},{"c":5,"g":5,"x":18,"y":0},
{"c":5,"g":6,"x":16,"y":0},{"c":5,"g":6,"x":17,"y":5000},{"c":5,"g":6,"x":18,"y":0},
{"c":5,"g":7,"x":16,"y":0},{"c":5,"g":7,"x":17,"y":5000},{"c":5,"g":7,"x":18,"y":0},
{"c":5,"g":8,"x":17,"y":0},{"c":5,"g":8,"x":18,"y":5000},{"c":5,"g":8,"x":19,"y":0},
{"c":5,"g":9,"x":18,"y":0},{"c":5,"g":9,"x":19,"y":5000},{"c":5,"g":9,"x":20,"y":0},
{"c":6,"g":1,"x":2,"y":0},{"c":6,"g":1,"x":3,"y":5000},{"c":6,"g":1,"x":4,"y":0},
{"c":6,"g":2,"x":4,"y":0},{"c":6,"g":2,"x":5,"y":5000},{"c":6,"g":2,"x":6,"y":0},
{"c":6,"g":3,"x":5,"y":0},{"c":6,"g":3,"x":6,"y":5000},{"c":6,"g":3,"x":7,"y":0},
{"c":6,"g":4,"x":10,"y":0},{"c":6,"g":4,"x":11,"y":5000},{"c":6,"g":4,"x":12,"y":0},
{"c":6,"g":5,"x":10,"y":0},{"c":6,"g":5,"x":11,"y":5000},{"c":6,"g":5,"x":12,"y":0},
{"c":6,"g":6,"x":10,"y":0},{"c":6,"g":6,"x":11,"y":5000},{"c":6,"g":6,"x":12,"y":0},
{"c":6,"g":7,"x":11,"y":0},{"c":6,"g":7,"x":12,"y":5000},{"c":6,"g":7,"x":13,"y":0},
{"c":6,"g":8,"x":15,"y":0},{"c":6,"g":8,"x":16,"y":5000},{"c":6,"g":8,"x":17,"y":0},
{"c":7,"g":1,"x":11,"y":0},{"c":7,"g":1,"x":12,"y":5000},{"c":7,"g":1,"x":13,"y":0},
{"c":7,"g":2,"x":16,"y":0},{"c":7,"g":2,"x":17,"y":5000},{"c":7,"g":2,"x":18,"y":0},
{"c":7,"g":3,"x":16,"y":0},{"c":7,"g":3,"x":17,"y":5000},{"c":7,"g":3,"x":18,"y":0},
{"c":7,"g":4,"x":17,"y":0},{"c":7,"g":4,"x":18,"y":5000},{"c":7,"g":4,"x":19,"y":0},
{"c":9,"g":1,"x":16,"y":0},{"c":9,"g":1,"x":17,"y":5000},{"c":9,"g":1,"x":18,"y":0},
{"c":9,"g":2,"x":16,"y":0},{"c":9,"g":2,"x":17,"y":5000},{"c":9,"g":2,"x":18,"y":0},
{"c":9,"g":3,"x":16,"y":0},{"c":9,"g":3,"x":17,"y":5000},{"c":9,"g":3,"x":18,"y":0},
{"c":9,"g":4,"x":17,"y":0},{"c":9,"g":4,"x":18,"y":5000},{"c":9,"g":4,"x":19,"y":0},
{"c":10,"g":1,"x":5,"y":0},{"c":10,"g":1,"x":6,"y":5000},{"c":10,"g":1,"x":7,"y":0},
{"c":10,"g":2,"x":11,"y":0},{"c":10,"g":2,"x":12,"y":5000},{"c":10,"g":2,"x":13,"y":0},
{"c":10,"g":3,"x":11,"y":0},{"c":10,"g":3,"x":12,"y":5000},{"c":10,"g":3,"x":13,"y":0},
{"c":10,"g":4,"x":14,"y":0},{"c":10,"g":4,"x":15,"y":5000},{"c":10,"g":4,"x":16,"y":0},
{"c":10,"g":5,"x":16,"y":0},{"c":10,"g":5,"x":17,"y":5000},{"c":10,"g":5,"x":18,"y":0},
{"c":10,"g":6,"x":17,"y":0},{"c":10,"g":6,"x":18,"y":5000},{"c":10,"g":6,"x":19,"y":0},
{"c":10,"g":7,"x":20,"y":0},{"c":10,"g":7,"x":21,"y":5000},{"c":10,"g":7,"x":22,"y":0},
{"c":11,"g":1,"x":3,"y":0},{"c":11,"g":1,"x":4,"y":5000},{"c":11,"g":1,"x":5,"y":0},
{"c":11,"g":2,"x":10,"y":0},{"c":11,"g":2,"x":11,"y":5000},{"c":11,"g":2,"x":12,"y":0},
{"c":11,"g":3,"x":10,"y":0},{"c":11,"g":3,"x":11,"y":5000},{"c":11,"g":3,"x":12,"y":0},
{"c":11,"g":4,"x":10,"y":0},{"c":11,"g":4,"x":11,"y":5000},{"c":11,"g":4,"x":12,"y":0},
{"c":11,"g":5,"x":11,"y":0},{"c":11,"g":5,"x":12,"y":5000},{"c":11,"g":5,"x":13,"y":0},
{"c":11,"g":6,"x":12,"y":0},{"c":11,"g":6,"x":13,"y":5000},{"c":11,"g":6,"x":14,"y":0},
{"c":12,"g":1,"x":2,"y":0},{"c":12,"g":1,"x":3,"y":5000},{"c":12,"g":1,"x":4,"y":0},
{"c":12,"g":2,"x":7,"y":0},{"c":12,"g":2,"x":8,"y":5000},{"c":12,"g":2,"x":9,"y":0},
{"c":12,"g":3,"x":10,"y":0},{"c":12,"g":3,"x":11,"y":5000},{"c":12,"g":3,"x":12,"y":0},
{"c":12,"g":4,"x":10,"y":0},{"c":12,"g":4,"x":11,"y":5000},{"c":12,"g":4,"x":12,"y":0},
{"c":12,"g":5,"x":12,"y":0},{"c":12,"g":5,"x":13,"y":5000},{"c":12,"g":5,"x":14,"y":0},
{"c":12,"g":6,"x":14,"y":0},{"c":12,"g":6,"x":15,"y":5000},{"c":12,"g":6,"x":16,"y":5000},{"c":12,"g":6,"x":17,"y":5000},{"c":12,"g":6,"x":18,"y":0},
{"c":14,"g":1,"x":20,"y":0},{"c":14,"g":1,"x":21,"y":5000},{"c":14,"g":1,"x":22,"y":0},
{"c":15,"g":1,"x":2,"y":0},{"c":15,"g":1,"x":3,"y":5000},{"c":15,"g":1,"x":4,"y":0},
{"c":15,"g":2,"x":3,"y":0},{"c":15,"g":2,"x":4,"y":5000},{"c":15,"g":2,"x":5,"y":0},
{"c":15,"g":3,"x":11,"y":0},{"c":15,"g":3,"x":12,"y":5000},{"c":15,"g":3,"x":13,"y":0},
{"c":15,"g":4,"x":11,"y":0},{"c":15,"g":4,"x":12,"y":5000},{"c":15,"g":4,"x":13,"y":0},
{"c":15,"g":5,"x":11,"y":0},{"c":15,"g":5,"x":12,"y":5000},{"c":15,"g":5,"x":13,"y":0},
{"c":15,"g":6,"x":13,"y":0},{"c":15,"g":6,"x":14,"y":5000},{"c":15,"g":6,"x":15,"y":0},
{"c":15,"g":7,"x":14,"y":0},{"c":15,"g":7,"x":15,"y":5000},{"c":15,"g":7,"x":16,"y":0},
{"c":15,"g":8,"x":14,"y":0},{"c":15,"g":8,"x":15,"y":5000},{"c":15,"g":8,"x":16,"y":0},
{"c":15,"g":9,"x":16,"y":0},{"c":15,"g":9,"x":17,"y":5000},{"c":15,"g":9,"x":18,"y":0},
{"c":15,"g":10,"x":16,"y":0},{"c":15,"g":10,"x":17,"y":5000},{"c":15,"g":10,"x":18,"y":0},
{"c":15,"g":11,"x":16,"y":0},{"c":15,"g":11,"x":17,"y":5000},{"c":15,"g":11,"x":18,"y":0},
{"c":15,"g":12,"x":17,"y":0},{"c":15,"g":12,"x":18,"y":5000},{"c":15,"g":12,"x":19,"y":0},
{"c":15,"g":13,"x":17,"y":0},{"c":15,"g":13,"x":18,"y":5000},{"c":15,"g":13,"x":19,"y":0},
{"c":15,"g":14,"x":17,"y":0},{"c":15,"g":14,"x":18,"y":5000},{"c":15,"g":14,"x":19,"y":0},
{"c":15,"g":15,"x":18,"y":0},{"c":15,"g":15,"x":19,"y":5000},{"c":15,"g":15,"x":20,"y":0},
{"c":15,"g":16,"x":19,"y":0},{"c":15,"g":16,"x":20,"y":5000},{"c":15,"g":16,"x":21,"y":0},
{"c":15,"g":17,"x":19,"y":0},{"c":15,"g":17,"x":20,"y":5000},{"c":15,"g":17,"x":21,"y":0},
{"c":15,"g":18,"x":20,"y":0},{"c":15,"g":18,"x":21,"y":5000},{"c":15,"g":18,"x":22,"y":0},
{"c":15,"g":19,"x":20,"y":0},{"c":15,"g":19,"x":21,"y":5000},{"c":15,"g":19,"x":22,"y":0},
{"c":16,"g":1,"x":16,"y":0},{"c":16,"g":1,"x":17,"y":5000},{"c":16,"g":1,"x":18,"y":0},
{"c":16,"g":2,"x":17,"y":0},{"c":16,"g":2,"x":18,"y":5000},{"c":16,"g":2,"x":19,"y":0},
{"c":16,"g":3,"x":20,"y":0},{"c":16,"g":3,"x":21,"y":5000},{"c":16,"g":3,"x":22,"y":0},
{"c":17,"g":1,"x":11,"y":0},{"c":17,"g":1,"x":12,"y":5000},{"c":17,"g":1,"x":13,"y":0},
{"c":17,"g":2,"x":11,"y":0},{"c":17,"g":2,"x":12,"y":5000},{"c":17,"g":2,"x":13,"y":0},
{"c":18,"g":1,"x":14,"y":0},{"c":18,"g":1,"x":15,"y":5000},{"c":18,"g":1,"x":16,"y":0}
],
"m":[
{"c":1,"x":0,"y":0},{"c":1,"x":10,"y":0},{"c":1,"x":11,"y":20},{"c":1,"x":12,"y":180},{"c":1,"x":13,"y":40},{"c":1,"x":14,"y":50},{"c":1,"x":15,"y":60},{"c":1,"x":16,"y":60},{"c":1,"x":17,"y":290},{"c":1,"x":18,"y":130},{"c":1,"x":19,"y":60},{"c":1,"x":20,"y":30},{"c":1,"x":21,"y":50},{"c":1,"x":22,"y":10},{"c":1,"x":26,"y":0},
{"c":2,"x":0,"y":6.2},{"c":2,"x":1,"y":3.7},{"c":2,"x":2,"y":-6.3},{"c":2,"x":3,"y":-8.8},{"c":2,"x":4,"y":-6.8},{"c":2,"x":5,"y":1.8},{"c":2,"x":6,"y":0.8},{"c":2,"x":7,"y":7},{"c":2,"x":8,"y":-1.1},{"c":2,"x":9,"y":-0.8},{"c":2,"x":10,"y":1.3},{"c":2,"x":11,"y":1.3},{"c":2,"x":12,"y":-6.8},{"c":2,"x":13,"y":-0.7},{"c":2,"x":14,"y":-6},{"c":2,"x":15,"y":-4.4},{"c":2,"x":16,"y":-2},{"c":2,"x":17,"y":-10.1},{"c":2,"x":18,"y":5.4},{"c":2,"x":19,"y":-3.6},{"c":2,"x":20,"y":-1.6},{"c":2,"x":21,"y":1.3},{"c":2,"x":22,"y":-3.6},{"c":2,"x":23,"y":0},{"c":2,"x":24,"y":-4.9},{"c":2,"x":25,"y":-0.3},{"c":2,"x":26,"y":1.3},
{"c":3,"x":0,"y":0},{"c":3,"x":11,"y":0},{"c":3,"x":12,"y":30},{"c":3,"x":13,"y":10},{"c":3,"x":14,"y":20},{"c":3,"x":15,"y":60},{"c":3,"x":16,"y":80},{"c":3,"x":17,"y":160},{"c":3,"x":18,"y":40},{"c":3,"x":19,"y":30},{"c":3,"x":20,"y":20},{"c":3,"x":21,"y":30},{"c":3,"x":22,"y":20},{"c":3,"x":23,"y":25},{"c":3,"x":24,"y":0},{"c":3,"x":26,"y":0},
{"c":4,"x":0,"y":0},{"c":4,"x":1,"y":0.9},{"c":4,"x":2,"y":-0.5},{"c":4,"x":3,"y":-0.9},{"c":4,"x":4,"y":-0.9},{"c":4,"x":5,"y":-0.5},{"c":4,"x":6,"y":0},{"c":4,"x":7,"y":-0.2},{"c":4,"x":8,"y":0.3},{"c":4,"x":9,"y":0.9},{"c":4,"x":10,"y":-1.4},{"c":4,"x":11,"y":-0.5},{"c":4,"x":12,"y":0.3},{"c":4,"x":13,"y":5},{"c":4,"x":14,"y":7.2},{"c":4,"x":15,"y":11.8},{"c":4,"x":16,"y":5.5},{"c":4,"x":17,"y":13.2},{"c":4,"x":18,"y":-5.6},{"c":4,"x":19,"y":2},{"c":4,"x":20,"y":6},{"c":4,"x":21,"y":6.3},{"c":4,"x":22,"y":2},{"c":4,"x":23,"y":2.9},{"c":4,"x":24,"y":2.6},{"c":4,"x":25,"y":1.5},{"c":4,"x":26,"y":0},
{"c":5,"x":0,"y":0},{"c":5,"x":3,"y":0},{"c":5,"x":4,"y":30},{"c":5,"x":5,"y":0},{"c":5,"x":7,"y":0},{"c":5,"x":8,"y":30},{"c":5,"x":9,"y":0},{"c":5,"x":11,"y":0},{"c":5,"x":12,"y":30},{"c":5,"x":13,"y":0},{"c":5,"x":15,"y":0},{"c":5,"x":16,"y":60},{"c":5,"x":17,"y":200},{"c":5,"x":18,"y":60},{"c":5,"x":19,"y":30},{"c":5,"x":20,"y":0},{"c":5,"x":26,"y":0},
{"c":6,"x":0,"y":0},{"c":6,"x":2,"y":0},{"c":6,"x":3,"y":20},{"c":6,"x":4,"y":10},{"c":6,"x":5,"y":80},{"c":6,"x":6,"y":150},{"c":6,"x":7,"y":40},{"c":6,"x":8,"y":10},{"c":6,"x":10,"y":0},{"c":6,"x":11,"y":460},{"c":6,"x":12,"y":120},{"c":6,"x":13,"y":0},{"c":6,"x":15,"y":0},{"c":6,"x":16,"y":60},{"c":6,"x":17,"y":0},{"c":6,"x":26,"y":0},
{"c":7,"x":0,"y":0},{"c":7,"x":11,"y":0},{"c":7,"x":12,"y":60},{"c":7,"x":13,"y":0},{"c":7,"x":16,"y":0},{"c":7,"x":17,"y":110},{"c":7,"x":18,"y":110},{"c":7,"x":19,"y":0},{"c":7,"x":26,"y":0},
{"c":8,"x":0,"y":3.1},{"c":8,"x":1,"y":3.5},{"c":8,"x":2,"y":5},{"c":8,"x":3,"y":1.6},{"c":8,"x":4,"y":-2.4},{"c":8,"x":5,"y":-5},{"c":8,"x":6,"y":-4.7},{"c":8,"x":7,"y":1.6},{"c":8,"x":8,"y":0.5},{"c":8,"x":9,"y":0.5},{"c":8,"x":10,"y":1.3},{"c":8,"x":11,"y":0.5},{"c":8,"x":12,"y":6.6},{"c":8,"x":13,"y":-1.9},{"c":8,"x":14,"y":-8.2},{"c":8,"x":15,"y":2.8},{"c":8,"x":16,"y":-8.7},{"c":8,"x":17,"y":-30},{"c":8,"x":18,"y":-27.6},{"c":8,"x":19,"y":0.5},{"c":8,"x":20,"y":4.4},{"c":8,"x":21,"y":6},{"c":8,"x":22,"y":2.4},{"c":8,"x":23,"y":8.7},{"c":8,"x":24,"y":0},{"c":8,"x":25,"y":4.4},{"c":8,"x":26,"y":-0.8},
{"c":9,"x":0,"y":0},{"c":9,"x":16,"y":0},{"c":9,"x":17,"y":320},{"c":9,"x":18,"y":70},{"c":9,"x":19,"y":0},{"c":9,"x":26,"y":0},
{"c":10,"x":0,"y":0},{"c":10,"x":5,"y":0},{"c":10,"x":6,"y":60},{"c":10,"x":7,"y":0},{"c":10,"x":11,"y":0},{"c":10,"x":12,"y":160},{"c":10,"x":13,"y":0},{"c":10,"x":14,"y":0},{"c":10,"x":15,"y":80},{"c":10,"x":16,"y":20},{"c":10,"x":17,"y":80},{"c":10,"x":18,"y":60},{"c":10,"x":19,"y":10},{"c":10,"x":20,"y":0},{"c":10,"x":21,"y":60},{"c":10,"x":22,"y":0},{"c":10,"x":26,"y":0},
{"c":11,"x":0,"y":0},{"c":11,"x":3,"y":0},{"c":11,"x":4,"y":50},{"c":11,"x":5,"y":0},{"c":11,"x":10,"y":0},{"c":11,"x":11,"y":650},{"c":11,"x":12,"y":80},{"c":11,"x":13,"y":290},{"c":11,"x":14,"y":0},{"c":11,"x":26,"y":0},
{"c":12,"x":0,"y":0},{"c":12,"x":2,"y":0},{"c":12,"x":3,"y":30},{"c":12,"x":4,"y":0},{"c":12,"x":7,"y":0},{"c":12,"x":8,"y":150},{"c":12,"x":9,"y":0},{"c":12,"x":10,"y":0},{"c":12,"x":11,"y":300},{"c":12,"x":12,"y":40},{"c":12,"x":13,"y":80},{"c":12,"x":14,"y":0},{"c":12,"x":15,"y":150},{"c":12,"x":16,"y":150},{"c":12,"x":17,"y":150},{"c":12,"x":18,"y":0},{"c":12,"x":26,"y":0},
{"c":13,"x":0,"y":-5.8},{"c":13,"x":1,"y":3.8},{"c":13,"x":2,"y":-3.5},{"c":13,"x":3,"y":-2.5},{"c":13,"x":4,"y":-1.1},{"c":13,"x":5,"y":-1.8},{"c":13,"x":6,"y":-5.8},{"c":13,"x":7,"y":4.8},{"c":13,"x":8,"y":-4.2},{"c":13,"x":9,"y":2.4},{"c":13,"x":10,"y":5.9},{"c":13,"x":11,"y":4.5},{"c":13,"x":12,"y":-6.3},{"c":13,"x":13,"y":0.7},{"c":13,"x":14,"y":-1.8},{"c":13,"x":15,"y":-7.2},{"c":13,"x":16,"y":-1.8},{"c":13,"x":17,"y":-3},{"c":13,"x":18,"y":8},{"c":13,"x":19,"y":-4.4},{"c":13,"x":20,"y":-5.4},{"c":13,"x":21,"y":-7.7},{"c":13,"x":22,"y":-0.4},{"c":13,"x":23,"y":6.9},{"c":13,"x":24,"y":4.5},{"c":13,"x":25,"y":2.4},{"c":13,"x":26,"y":-1.1},
{"c":14,"x":0,"y":0},{"c":14,"x":20,"y":0},{"c":14,"x":21,"y":450},{"c":14,"x":22,"y":0},{"c":14,"x":26,"y":0},
{"c":15,"x":0,"y":0},{"c":15,"x":2,"y":0},{"c":15,"x":3,"y":20},{"c":15,"x":4,"y":20},{"c":15,"x":5,"y":0},{"c":15,"x":11,"y":0},{"c":15,"x":12,"y":100},{"c":15,"x":13,"y":20},{"c":15,"x":14,"y":30},{"c":15,"x":15,"y":50},{"c":15,"x":16,"y":40},{"c":15,"x":17,"y":230},{"c":15,"x":18,"y":80},{"c":15,"x":19,"y":40},{"c":15,"x":20,"y":50},{"c":15,"x":21,"y":50},{"c":15,"x":22,"y":0},{"c":15,"x":26,"y":0},
{"c":16,"x":0,"y":0},{"c":16,"x":16,"y":0},{"c":16,"x":17,"y":220},{"c":16,"x":18,"y":130},{"c":16,"x":19,"y":0},{"c":16,"x":20,"y":40},{"c":16,"x":21,"y":220},{"c":16,"x":22,"y":0},{"c":16,"x":26,"y":0},
{"c":17,"x":0,"y":0},{"c":17,"x":11,"y":0},{"c":17,"x":12,"y":720},{"c":17,"x":13,"y":0},{"c":17,"x":26,"y":0},
{"c":18,"x":0,"y":0},{"c":18,"x":14,"y":0},{"c":18,"x":15,"y":220},{"c":18,"x":16,"y":0},{"c":18,"x":26,"y":0}
]
},
"concat":[
{"vconcat":[{"width":137,"height":15,"view":{"fill":"#ADD8E6"},"data":{"values":[{"t":"Cluster 1"}]},"mark":{"type":"text","fontSize":9,"fontWeight":"bold","color":"#1A1A1A"},"encoding":{"text":{"field":"t"}}},
{"width":137,"height":144,"encoding":{"x":{"field":"x","type":"quantitative","title":null,"scale":{"domain":[-0.6,26.6],"nice":false,"zero":false},"axis":{"values":[0,1,2,3,4,5,6,7,8,9,10,11,12,13,14,15,16,17,18,19,20,21,22,23,24,25,26],"labels":false,"ticks":false}}},
"layer":[{"data":{"name":"zone"},"mark":{"type":"rect","color":"#D9D9D9"},"encoding":{"x2":{"field":"x2"}}},{"data":{"name":"sep"},"mark":{"type":"rule","color":"#8C8C8C","strokeDash":[1.2,2],"strokeWidth":0.8},"encoding":{}},
{"data":{"name":"g"},"transform":[{"filter":"datum.c==1"}],"mark":{"type":"line","color":"#000000","opacity":0.28,"strokeWidth":0.6},"encoding":{"y":{"field":"y","type":"quantitative","title":null,"scale":{"domain":[-260,5260],"nice":false,"zero":false},"axis":{"values":[0,1000,2000,3000,4000,5000],"tickCount":6}},"detail":{"field":"g","type":"nominal"}}},
{"data":{"name":"m"},"transform":[{"filter":"datum.c==1"}],"mark":{"type":"line","color":"#B22222","strokeWidth":2.2},"encoding":{"y":{"field":"y","type":"quantitative","title":null,"scale":{"domain":[-260,5260],"nice":false,"zero":false},"axis":{"values":[0,1000,2000,3000,4000,5000],"tickCount":6}}}},
{"data":{"name":"frame"},"mark":{"type":"rect","fill":"transparent","stroke":"#333333","strokeWidth":1},"encoding":{"x2":{"field":"x2"}}}]}],"spacing":0,"bounds":"flush"},
{"vconcat":[{"width":137,"height":15,"view":{"fill":"#ADD8E6"},"data":{"values":[{"t":"Cluster 2"}]},"mark":{"type":"text","fontSize":9,"fontWeight":"bold","color":"#1A1A1A"},"encoding":{"text":{"field":"t"}}},
{"width":137,"height":144,"encoding":{"x":{"field":"x","type":"quantitative","title":null,"scale":{"domain":[-0.6,26.6],"nice":false,"zero":false},"axis":{"values":[0,1,2,3,4,5,6,7,8,9,10,11,12,13,14,15,16,17,18,19,20,21,22,23,24,25,26],"labels":false,"ticks":false}}},
"layer":[{"data":{"name":"zone"},"mark":{"type":"rect","color":"#D9D9D9"},"encoding":{"x2":{"field":"x2"}}},{"data":{"name":"sep"},"mark":{"type":"rule","color":"#8C8C8C","strokeDash":[1.2,2],"strokeWidth":0.8},"encoding":{}},
{"data":{"name":"g"},"transform":[{"filter":"datum.c==2"}],"mark":{"type":"line","color":"#000000","opacity":0.28,"strokeWidth":0.6},"encoding":{"y":{"field":"y","type":"quantitative","title":null,"scale":{"domain":[-33.7,37.4],"nice":false,"zero":false},"axis":{"values":[-20,0,20]}},"detail":{"field":"g","type":"nominal"}}},
{"data":{"name":"m"},"transform":[{"filter":"datum.c==2"}],"mark":{"type":"line","color":"#B22222","strokeWidth":2.2},"encoding":{"y":{"field":"y","type":"quantitative","title":null,"scale":{"domain":[-33.7,37.4],"nice":false,"zero":false},"axis":{"values":[-20,0,20]}}}},
{"data":{"name":"frame"},"mark":{"type":"rect","fill":"transparent","stroke":"#333333","strokeWidth":1},"encoding":{"x2":{"field":"x2"}}}]}],"spacing":0,"bounds":"flush"},
{"vconcat":[{"width":137,"height":15,"view":{"fill":"#ADD8E6"},"data":{"values":[{"t":"Cluster 3"}]},"mark":{"type":"text","fontSize":9,"fontWeight":"bold","color":"#1A1A1A"},"encoding":{"text":{"field":"t"}}},
{"width":137,"height":144,"encoding":{"x":{"field":"x","type":"quantitative","title":null,"scale":{"domain":[-0.6,26.6],"nice":false,"zero":false},"axis":{"values":[0,1,2,3,4,5,6,7,8,9,10,11,12,13,14,15,16,17,18,19,20,21,22,23,24,25,26],"labels":false,"ticks":false}}},
"layer":[{"data":{"name":"zone"},"mark":{"type":"rect","color":"#D9D9D9"},"encoding":{"x2":{"field":"x2"}}},{"data":{"name":"sep"},"mark":{"type":"rule","color":"#8C8C8C","strokeDash":[1.2,2],"strokeWidth":0.8},"encoding":{}},
{"data":{"name":"g"},"transform":[{"filter":"datum.c==3"}],"mark":{"type":"line","color":"#000000","opacity":0.28,"strokeWidth":0.6},"encoding":{"y":{"field":"y","type":"quantitative","title":null,"scale":{"domain":[-260,5260],"nice":false,"zero":false},"axis":{"values":[0,1000,2000,3000,4000,5000],"tickCount":6}},"detail":{"field":"g","type":"nominal"}}},
{"data":{"name":"m"},"transform":[{"filter":"datum.c==3"}],"mark":{"type":"line","color":"#B22222","strokeWidth":2.2},"encoding":{"y":{"field":"y","type":"quantitative","title":null,"scale":{"domain":[-260,5260],"nice":false,"zero":false},"axis":{"values":[0,1000,2000,3000,4000,5000],"tickCount":6}}}},
{"data":{"name":"frame"},"mark":{"type":"rect","fill":"transparent","stroke":"#333333","strokeWidth":1},"encoding":{"x2":{"field":"x2"}}}]}],"spacing":0,"bounds":"flush"},
{"vconcat":[{"width":137,"height":15,"view":{"fill":"#ADD8E6"},"data":{"values":[{"t":"Cluster 4"}]},"mark":{"type":"text","fontSize":9,"fontWeight":"bold","color":"#1A1A1A"},"encoding":{"text":{"field":"t"}}},
{"width":137,"height":144,"encoding":{"x":{"field":"x","type":"quantitative","title":null,"scale":{"domain":[-0.6,26.6],"nice":false,"zero":false},"axis":{"values":[0,1,2,3,4,5,6,7,8,9,10,11,12,13,14,15,16,17,18,19,20,21,22,23,24,25,26],"labels":false,"ticks":false}}},
"layer":[{"data":{"name":"zone"},"mark":{"type":"rect","color":"#D9D9D9"},"encoding":{"x2":{"field":"x2"}}},{"data":{"name":"sep"},"mark":{"type":"rule","color":"#8C8C8C","strokeDash":[1.2,2],"strokeWidth":0.8},"encoding":{}},
{"data":{"name":"g"},"transform":[{"filter":"datum.c==4"}],"mark":{"type":"line","color":"#000000","opacity":0.28,"strokeWidth":0.6},"encoding":{"y":{"field":"y","type":"quantitative","title":null,"scale":{"domain":[-39.4,34.8],"nice":false,"zero":false},"axis":{"values":[-20,0,20]}},"detail":{"field":"g","type":"nominal"}}},
{"data":{"name":"m"},"transform":[{"filter":"datum.c==4"}],"mark":{"type":"line","color":"#B22222","strokeWidth":2.2},"encoding":{"y":{"field":"y","type":"quantitative","title":null,"scale":{"domain":[-39.4,34.8],"nice":false,"zero":false},"axis":{"values":[-20,0,20]}}}},
{"data":{"name":"frame"},"mark":{"type":"rect","fill":"transparent","stroke":"#333333","strokeWidth":1},"encoding":{"x2":{"field":"x2"}}}]}],"spacing":0,"bounds":"flush"},
{"vconcat":[{"width":137,"height":15,"view":{"fill":"#ADD8E6"},"data":{"values":[{"t":"Cluster 5"}]},"mark":{"type":"text","fontSize":9,"fontWeight":"bold","color":"#1A1A1A"},"encoding":{"text":{"field":"t"}}},
{"width":137,"height":144,"encoding":{"x":{"field":"x","type":"quantitative","title":null,"scale":{"domain":[-0.6,26.6],"nice":false,"zero":false},"axis":{"values":[0,1,2,3,4,5,6,7,8,9,10,11,12,13,14,15,16,17,18,19,20,21,22,23,24,25,26],"labels":false,"ticks":false}}},
"layer":[{"data":{"name":"zone"},"mark":{"type":"rect","color":"#D9D9D9"},"encoding":{"x2":{"field":"x2"}}},{"data":{"name":"sep"},"mark":{"type":"rule","color":"#8C8C8C","strokeDash":[1.2,2],"strokeWidth":0.8},"encoding":{}},
{"data":{"name":"g"},"transform":[{"filter":"datum.c==5"}],"mark":{"type":"line","color":"#000000","opacity":0.28,"strokeWidth":0.6},"encoding":{"y":{"field":"y","type":"quantitative","title":null,"scale":{"domain":[-260,5260],"nice":false,"zero":false},"axis":{"values":[0,1000,2000,3000,4000,5000],"tickCount":6}},"detail":{"field":"g","type":"nominal"}}},
{"data":{"name":"m"},"transform":[{"filter":"datum.c==5"}],"mark":{"type":"line","color":"#B22222","strokeWidth":2.2},"encoding":{"y":{"field":"y","type":"quantitative","title":null,"scale":{"domain":[-260,5260],"nice":false,"zero":false},"axis":{"values":[0,1000,2000,3000,4000,5000],"tickCount":6}}}},
{"data":{"name":"frame"},"mark":{"type":"rect","fill":"transparent","stroke":"#333333","strokeWidth":1},"encoding":{"x2":{"field":"x2"}}}]}],"spacing":0,"bounds":"flush"},
{"vconcat":[{"width":137,"height":15,"view":{"fill":"#ADD8E6"},"data":{"values":[{"t":"Cluster 6"}]},"mark":{"type":"text","fontSize":9,"fontWeight":"bold","color":"#1A1A1A"},"encoding":{"text":{"field":"t"}}},
{"width":137,"height":144,"encoding":{"x":{"field":"x","type":"quantitative","title":null,"scale":{"domain":[-0.6,26.6],"nice":false,"zero":false},"axis":{"values":[0,1,2,3,4,5,6,7,8,9,10,11,12,13,14,15,16,17,18,19,20,21,22,23,24,25,26],"labels":false,"ticks":false}}},
"layer":[{"data":{"name":"zone"},"mark":{"type":"rect","color":"#D9D9D9"},"encoding":{"x2":{"field":"x2"}}},{"data":{"name":"sep"},"mark":{"type":"rule","color":"#8C8C8C","strokeDash":[1.2,2],"strokeWidth":0.8},"encoding":{}},
{"data":{"name":"g"},"transform":[{"filter":"datum.c==6"}],"mark":{"type":"line","color":"#000000","opacity":0.28,"strokeWidth":0.6},"encoding":{"y":{"field":"y","type":"quantitative","title":null,"scale":{"domain":[-260,5260],"nice":false,"zero":false},"axis":{"values":[0,1000,2000,3000,4000,5000],"tickCount":6}},"detail":{"field":"g","type":"nominal"}}},
{"data":{"name":"m"},"transform":[{"filter":"datum.c==6"}],"mark":{"type":"line","color":"#B22222","strokeWidth":2.2},"encoding":{"y":{"field":"y","type":"quantitative","title":null,"scale":{"domain":[-260,5260],"nice":false,"zero":false},"axis":{"values":[0,1000,2000,3000,4000,5000],"tickCount":6}}}},
{"data":{"name":"frame"},"mark":{"type":"rect","fill":"transparent","stroke":"#333333","strokeWidth":1},"encoding":{"x2":{"field":"x2"}}}]}],"spacing":0,"bounds":"flush"},
{"vconcat":[{"width":137,"height":15,"view":{"fill":"#ADD8E6"},"data":{"values":[{"t":"Cluster 7"}]},"mark":{"type":"text","fontSize":9,"fontWeight":"bold","color":"#1A1A1A"},"encoding":{"text":{"field":"t"}}},
{"width":137,"height":144,"encoding":{"x":{"field":"x","type":"quantitative","title":null,"scale":{"domain":[-0.6,26.6],"nice":false,"zero":false},"axis":{"values":[0,1,2,3,4,5,6,7,8,9,10,11,12,13,14,15,16,17,18,19,20,21,22,23,24,25,26],"labels":false,"ticks":false}}},
"layer":[{"data":{"name":"zone"},"mark":{"type":"rect","color":"#D9D9D9"},"encoding":{"x2":{"field":"x2"}}},{"data":{"name":"sep"},"mark":{"type":"rule","color":"#8C8C8C","strokeDash":[1.2,2],"strokeWidth":0.8},"encoding":{}},
{"data":{"name":"g"},"transform":[{"filter":"datum.c==7"}],"mark":{"type":"line","color":"#000000","opacity":0.28,"strokeWidth":0.6},"encoding":{"y":{"field":"y","type":"quantitative","title":"Mean Profiles Expression","scale":{"domain":[-260,5260],"nice":false,"zero":false},"axis":{"values":[0,1000,2000,3000,4000,5000],"tickCount":6,"titleFontSize":8,"titleFontWeight":"normal","titleColor":"#000000","titlePadding":3,"titleY":64}},"detail":{"field":"g","type":"nominal"}}},
{"data":{"name":"m"},"transform":[{"filter":"datum.c==7"}],"mark":{"type":"line","color":"#B22222","strokeWidth":2.2},"encoding":{"y":{"field":"y","type":"quantitative","title":"Mean Profiles Expression","scale":{"domain":[-260,5260],"nice":false,"zero":false},"axis":{"values":[0,1000,2000,3000,4000,5000],"tickCount":6,"titleFontSize":8,"titleFontWeight":"normal","titleColor":"#000000","titlePadding":3,"titleY":64}}}},
{"data":{"name":"frame"},"mark":{"type":"rect","fill":"transparent","stroke":"#333333","strokeWidth":1},"encoding":{"x2":{"field":"x2"}}}]}],"spacing":0,"bounds":"flush"},
{"vconcat":[{"width":137,"height":15,"view":{"fill":"#ADD8E6"},"data":{"values":[{"t":"Cluster 8"}]},"mark":{"type":"text","fontSize":9,"fontWeight":"bold","color":"#1A1A1A"},"encoding":{"text":{"field":"t"}}},
{"width":137,"height":144,"encoding":{"x":{"field":"x","type":"quantitative","title":null,"scale":{"domain":[-0.6,26.6],"nice":false,"zero":false},"axis":{"values":[0,1,2,3,4,5,6,7,8,9,10,11,12,13,14,15,16,17,18,19,20,21,22,23,24,25,26],"labels":false,"ticks":false}}},
"layer":[{"data":{"name":"zone"},"mark":{"type":"rect","color":"#D9D9D9"},"encoding":{"x2":{"field":"x2"}}},{"data":{"name":"sep"},"mark":{"type":"rule","color":"#8C8C8C","strokeDash":[1.2,2],"strokeWidth":0.8},"encoding":{}},
{"data":{"name":"g"},"transform":[{"filter":"datum.c==8"}],"mark":{"type":"line","color":"#000000","opacity":0.28,"strokeWidth":0.6},"encoding":{"y":{"field":"y","type":"quantitative","title":null,"scale":{"domain":[-42.4,25.5],"nice":false,"zero":false},"axis":{"values":[-40,-20,0,20]}},"detail":{"field":"g","type":"nominal"}}},
{"data":{"name":"m"},"transform":[{"filter":"datum.c==8"}],"mark":{"type":"line","color":"#B22222","strokeWidth":2.2},"encoding":{"y":{"field":"y","type":"quantitative","title":null,"scale":{"domain":[-42.4,25.5],"nice":false,"zero":false},"axis":{"values":[-40,-20,0,20]}}}},
{"data":{"name":"frame"},"mark":{"type":"rect","fill":"transparent","stroke":"#333333","strokeWidth":1},"encoding":{"x2":{"field":"x2"}}}]}],"spacing":0,"bounds":"flush"},
{"vconcat":[{"width":137,"height":15,"view":{"fill":"#ADD8E6"},"data":{"values":[{"t":"Cluster 9"}]},"mark":{"type":"text","fontSize":9,"fontWeight":"bold","color":"#1A1A1A"},"encoding":{"text":{"field":"t"}}},
{"width":137,"height":144,"encoding":{"x":{"field":"x","type":"quantitative","title":null,"scale":{"domain":[-0.6,26.6],"nice":false,"zero":false},"axis":{"values":[0,1,2,3,4,5,6,7,8,9,10,11,12,13,14,15,16,17,18,19,20,21,22,23,24,25,26],"labels":false,"ticks":false}}},
"layer":[{"data":{"name":"zone"},"mark":{"type":"rect","color":"#D9D9D9"},"encoding":{"x2":{"field":"x2"}}},{"data":{"name":"sep"},"mark":{"type":"rule","color":"#8C8C8C","strokeDash":[1.2,2],"strokeWidth":0.8},"encoding":{}},
{"data":{"name":"g"},"transform":[{"filter":"datum.c==9"}],"mark":{"type":"line","color":"#000000","opacity":0.28,"strokeWidth":0.6},"encoding":{"y":{"field":"y","type":"quantitative","title":null,"scale":{"domain":[-260,5260],"nice":false,"zero":false},"axis":{"values":[0,1000,2000,3000,4000,5000],"tickCount":6}},"detail":{"field":"g","type":"nominal"}}},
{"data":{"name":"m"},"transform":[{"filter":"datum.c==9"}],"mark":{"type":"line","color":"#B22222","strokeWidth":2.2},"encoding":{"y":{"field":"y","type":"quantitative","title":null,"scale":{"domain":[-260,5260],"nice":false,"zero":false},"axis":{"values":[0,1000,2000,3000,4000,5000],"tickCount":6}}}},
{"data":{"name":"frame"},"mark":{"type":"rect","fill":"transparent","stroke":"#333333","strokeWidth":1},"encoding":{"x2":{"field":"x2"}}}]}],"spacing":0,"bounds":"flush"},
{"vconcat":[{"width":137,"height":15,"view":{"fill":"#ADD8E6"},"data":{"values":[{"t":"Cluster 10"}]},"mark":{"type":"text","fontSize":9,"fontWeight":"bold","color":"#1A1A1A"},"encoding":{"text":{"field":"t"}}},
{"width":137,"height":144,"encoding":{"x":{"field":"x","type":"quantitative","title":null,"scale":{"domain":[-0.6,26.6],"nice":false,"zero":false},"axis":{"values":[0,1,2,3,4,5,6,7,8,9,10,11,12,13,14,15,16,17,18,19,20,21,22,23,24,25,26],"labels":false,"ticks":false}}},
"layer":[{"data":{"name":"zone"},"mark":{"type":"rect","color":"#D9D9D9"},"encoding":{"x2":{"field":"x2"}}},{"data":{"name":"sep"},"mark":{"type":"rule","color":"#8C8C8C","strokeDash":[1.2,2],"strokeWidth":0.8},"encoding":{}},
{"data":{"name":"g"},"transform":[{"filter":"datum.c==10"}],"mark":{"type":"line","color":"#000000","opacity":0.28,"strokeWidth":0.6},"encoding":{"y":{"field":"y","type":"quantitative","title":null,"scale":{"domain":[-260,5260],"nice":false,"zero":false},"axis":{"values":[0,1000,2000,3000,4000,5000],"tickCount":6}},"detail":{"field":"g","type":"nominal"}}},
{"data":{"name":"m"},"transform":[{"filter":"datum.c==10"}],"mark":{"type":"line","color":"#B22222","strokeWidth":2.2},"encoding":{"y":{"field":"y","type":"quantitative","title":null,"scale":{"domain":[-260,5260],"nice":false,"zero":false},"axis":{"values":[0,1000,2000,3000,4000,5000],"tickCount":6}}}},
{"data":{"name":"frame"},"mark":{"type":"rect","fill":"transparent","stroke":"#333333","strokeWidth":1},"encoding":{"x2":{"field":"x2"}}}]}],"spacing":0,"bounds":"flush"},
{"vconcat":[{"width":137,"height":15,"view":{"fill":"#ADD8E6"},"data":{"values":[{"t":"Cluster 11"}]},"mark":{"type":"text","fontSize":9,"fontWeight":"bold","color":"#1A1A1A"},"encoding":{"text":{"field":"t"}}},
{"width":137,"height":144,"encoding":{"x":{"field":"x","type":"quantitative","title":null,"scale":{"domain":[-0.6,26.6],"nice":false,"zero":false},"axis":{"values":[0,1,2,3,4,5,6,7,8,9,10,11,12,13,14,15,16,17,18,19,20,21,22,23,24,25,26],"labels":false,"ticks":false}}},
"layer":[{"data":{"name":"zone"},"mark":{"type":"rect","color":"#D9D9D9"},"encoding":{"x2":{"field":"x2"}}},{"data":{"name":"sep"},"mark":{"type":"rule","color":"#8C8C8C","strokeDash":[1.2,2],"strokeWidth":0.8},"encoding":{}},
{"data":{"name":"g"},"transform":[{"filter":"datum.c==11"}],"mark":{"type":"line","color":"#000000","opacity":0.28,"strokeWidth":0.6},"encoding":{"y":{"field":"y","type":"quantitative","title":null,"scale":{"domain":[-260,5260],"nice":false,"zero":false},"axis":{"values":[0,1000,2000,3000,4000,5000],"tickCount":6}},"detail":{"field":"g","type":"nominal"}}},
{"data":{"name":"m"},"transform":[{"filter":"datum.c==11"}],"mark":{"type":"line","color":"#B22222","strokeWidth":2.2},"encoding":{"y":{"field":"y","type":"quantitative","title":null,"scale":{"domain":[-260,5260],"nice":false,"zero":false},"axis":{"values":[0,1000,2000,3000,4000,5000],"tickCount":6}}}},
{"data":{"name":"frame"},"mark":{"type":"rect","fill":"transparent","stroke":"#333333","strokeWidth":1},"encoding":{"x2":{"field":"x2"}}}]}],"spacing":0,"bounds":"flush"},
{"vconcat":[{"width":137,"height":15,"view":{"fill":"#ADD8E6"},"data":{"values":[{"t":"Cluster 12"}]},"mark":{"type":"text","fontSize":9,"fontWeight":"bold","color":"#1A1A1A"},"encoding":{"text":{"field":"t"}}},
{"width":137,"height":144,"encoding":{"x":{"field":"x","type":"quantitative","title":null,"scale":{"domain":[-0.6,26.6],"nice":false,"zero":false},"axis":{"values":[0,1,2,3,4,5,6,7,8,9,10,11,12,13,14,15,16,17,18,19,20,21,22,23,24,25,26],"labels":false,"ticks":false}}},
"layer":[{"data":{"name":"zone"},"mark":{"type":"rect","color":"#D9D9D9"},"encoding":{"x2":{"field":"x2"}}},{"data":{"name":"sep"},"mark":{"type":"rule","color":"#8C8C8C","strokeDash":[1.2,2],"strokeWidth":0.8},"encoding":{}},
{"data":{"name":"g"},"transform":[{"filter":"datum.c==12"}],"mark":{"type":"line","color":"#000000","opacity":0.28,"strokeWidth":0.6},"encoding":{"y":{"field":"y","type":"quantitative","title":null,"scale":{"domain":[-260,5260],"nice":false,"zero":false},"axis":{"values":[0,1000,2000,3000,4000,5000],"tickCount":6}},"detail":{"field":"g","type":"nominal"}}},
{"data":{"name":"m"},"transform":[{"filter":"datum.c==12"}],"mark":{"type":"line","color":"#B22222","strokeWidth":2.2},"encoding":{"y":{"field":"y","type":"quantitative","title":null,"scale":{"domain":[-260,5260],"nice":false,"zero":false},"axis":{"values":[0,1000,2000,3000,4000,5000],"tickCount":6}}}},
{"data":{"name":"frame"},"mark":{"type":"rect","fill":"transparent","stroke":"#333333","strokeWidth":1},"encoding":{"x2":{"field":"x2"}}}]}],"spacing":0,"bounds":"flush"},
{"vconcat":[{"width":137,"height":15,"view":{"fill":"#ADD8E6"},"data":{"values":[{"t":"Cluster 13"}]},"mark":{"type":"text","fontSize":9,"fontWeight":"bold","color":"#1A1A1A"},"encoding":{"text":{"field":"t"}}},
{"width":137,"height":144,"encoding":{"x":{"field":"x","type":"quantitative","title":null,"scale":{"domain":[-0.6,26.6],"nice":false,"zero":false},"axis":{"values":[0,1,2,3,4,5,6,7,8,9,10,11,12,13,14,15,16,17,18,19,20,21,22,23,24,25,26],"labelExpr":"['P1_1','P1_2','P1_3','P1_4','P1_5','P1_6','P1_7','P1_8','P2_1','P2_2','P2_3','P2_4','P3_1','P3_2','P3_3','P3_4','P4_1','P4_2','P4_3','P5_1','P5_2','P5_3','P6_1','P6_2','P6_3','P7_1','P7_2'][datum.value]"}}},
"layer":[{"data":{"name":"zone"},"mark":{"type":"rect","color":"#D9D9D9"},"encoding":{"x2":{"field":"x2"}}},{"data":{"name":"sep"},"mark":{"type":"rule","color":"#8C8C8C","strokeDash":[1.2,2],"strokeWidth":0.8},"encoding":{}},
{"data":{"name":"g"},"transform":[{"filter":"datum.c==13"}],"mark":{"type":"line","color":"#000000","opacity":0.28,"strokeWidth":0.6},"encoding":{"y":{"field":"y","type":"quantitative","title":null,"scale":{"domain":[-23,38.1],"nice":false,"zero":false},"axis":{"values":[-20,0,20]}},"detail":{"field":"g","type":"nominal"}}},
{"data":{"name":"m"},"transform":[{"filter":"datum.c==13"}],"mark":{"type":"line","color":"#B22222","strokeWidth":2.2},"encoding":{"y":{"field":"y","type":"quantitative","title":null,"scale":{"domain":[-23,38.1],"nice":false,"zero":false},"axis":{"values":[-20,0,20]}}}},
{"data":{"name":"frame"},"mark":{"type":"rect","fill":"transparent","stroke":"#333333","strokeWidth":1},"encoding":{"x2":{"field":"x2"}}}]}],"spacing":0,"bounds":"flush"},
{"vconcat":[{"width":137,"height":15,"view":{"fill":"#ADD8E6"},"data":{"values":[{"t":"Cluster 14"}]},"mark":{"type":"text","fontSize":9,"fontWeight":"bold","color":"#1A1A1A"},"encoding":{"text":{"field":"t"}}},
{"width":137,"height":144,"encoding":{"x":{"field":"x","type":"quantitative","title":null,"scale":{"domain":[-0.6,26.6],"nice":false,"zero":false},"axis":{"values":[0,1,2,3,4,5,6,7,8,9,10,11,12,13,14,15,16,17,18,19,20,21,22,23,24,25,26],"labelExpr":"['P1_1','P1_2','P1_3','P1_4','P1_5','P1_6','P1_7','P1_8','P2_1','P2_2','P2_3','P2_4','P3_1','P3_2','P3_3','P3_4','P4_1','P4_2','P4_3','P5_1','P5_2','P5_3','P6_1','P6_2','P6_3','P7_1','P7_2'][datum.value]"}}},
"layer":[{"data":{"name":"zone"},"mark":{"type":"rect","color":"#D9D9D9"},"encoding":{"x2":{"field":"x2"}}},{"data":{"name":"sep"},"mark":{"type":"rule","color":"#8C8C8C","strokeDash":[1.2,2],"strokeWidth":0.8},"encoding":{}},
{"data":{"name":"g"},"transform":[{"filter":"datum.c==14"}],"mark":{"type":"line","color":"#000000","opacity":0.28,"strokeWidth":0.6},"encoding":{"y":{"field":"y","type":"quantitative","title":null,"scale":{"domain":[-260,5260],"nice":false,"zero":false},"axis":{"values":[0,1000,2000,3000,4000,5000],"tickCount":6}},"detail":{"field":"g","type":"nominal"}}},
{"data":{"name":"m"},"transform":[{"filter":"datum.c==14"}],"mark":{"type":"line","color":"#B22222","strokeWidth":2.2},"encoding":{"y":{"field":"y","type":"quantitative","title":null,"scale":{"domain":[-260,5260],"nice":false,"zero":false},"axis":{"values":[0,1000,2000,3000,4000,5000],"tickCount":6}}}},
{"data":{"name":"frame"},"mark":{"type":"rect","fill":"transparent","stroke":"#333333","strokeWidth":1},"encoding":{"x2":{"field":"x2"}}}]}],"spacing":0,"bounds":"flush"},
{"vconcat":[{"width":137,"height":15,"view":{"fill":"#ADD8E6"},"data":{"values":[{"t":"Cluster 15"}]},"mark":{"type":"text","fontSize":9,"fontWeight":"bold","color":"#1A1A1A"},"encoding":{"text":{"field":"t"}}},
{"width":137,"height":144,"encoding":{"x":{"field":"x","type":"quantitative","title":null,"scale":{"domain":[-0.6,26.6],"nice":false,"zero":false},"axis":{"values":[0,1,2,3,4,5,6,7,8,9,10,11,12,13,14,15,16,17,18,19,20,21,22,23,24,25,26],"labelExpr":"['P1_1','P1_2','P1_3','P1_4','P1_5','P1_6','P1_7','P1_8','P2_1','P2_2','P2_3','P2_4','P3_1','P3_2','P3_3','P3_4','P4_1','P4_2','P4_3','P5_1','P5_2','P5_3','P6_1','P6_2','P6_3','P7_1','P7_2'][datum.value]"}}},
"layer":[{"data":{"name":"zone"},"mark":{"type":"rect","color":"#D9D9D9"},"encoding":{"x2":{"field":"x2"}}},{"data":{"name":"sep"},"mark":{"type":"rule","color":"#8C8C8C","strokeDash":[1.2,2],"strokeWidth":0.8},"encoding":{}},
{"data":{"name":"g"},"transform":[{"filter":"datum.c==15"}],"mark":{"type":"line","color":"#000000","opacity":0.28,"strokeWidth":0.6},"encoding":{"y":{"field":"y","type":"quantitative","title":null,"scale":{"domain":[-260,5260],"nice":false,"zero":false},"axis":{"values":[0,1000,2000,3000,4000,5000],"tickCount":6}},"detail":{"field":"g","type":"nominal"}}},
{"data":{"name":"m"},"transform":[{"filter":"datum.c==15"}],"mark":{"type":"line","color":"#B22222","strokeWidth":2.2},"encoding":{"y":{"field":"y","type":"quantitative","title":null,"scale":{"domain":[-260,5260],"nice":false,"zero":false},"axis":{"values":[0,1000,2000,3000,4000,5000],"tickCount":6}}}},
{"data":{"name":"frame"},"mark":{"type":"rect","fill":"transparent","stroke":"#333333","strokeWidth":1},"encoding":{"x2":{"field":"x2"}}}]}],"spacing":0,"bounds":"flush"},
{"vconcat":[{"width":137,"height":15,"view":{"fill":"#ADD8E6"},"data":{"values":[{"t":"Cluster 16"}]},"mark":{"type":"text","fontSize":9,"fontWeight":"bold","color":"#1A1A1A"},"encoding":{"text":{"field":"t"}}},
{"width":137,"height":144,"encoding":{"x":{"field":"x","type":"quantitative","title":null,"scale":{"domain":[-0.6,26.6],"nice":false,"zero":false},"axis":{"values":[0,1,2,3,4,5,6,7,8,9,10,11,12,13,14,15,16,17,18,19,20,21,22,23,24,25,26],"labelExpr":"['P1_1','P1_2','P1_3','P1_4','P1_5','P1_6','P1_7','P1_8','P2_1','P2_2','P2_3','P2_4','P3_1','P3_2','P3_3','P3_4','P4_1','P4_2','P4_3','P5_1','P5_2','P5_3','P6_1','P6_2','P6_3','P7_1','P7_2'][datum.value]"}}},
"layer":[{"data":{"name":"zone"},"mark":{"type":"rect","color":"#D9D9D9"},"encoding":{"x2":{"field":"x2"}}},{"data":{"name":"sep"},"mark":{"type":"rule","color":"#8C8C8C","strokeDash":[1.2,2],"strokeWidth":0.8},"encoding":{}},
{"data":{"name":"g"},"transform":[{"filter":"datum.c==16"}],"mark":{"type":"line","color":"#000000","opacity":0.28,"strokeWidth":0.6},"encoding":{"y":{"field":"y","type":"quantitative","title":null,"scale":{"domain":[-260,5260],"nice":false,"zero":false},"axis":{"values":[0,1000,2000,3000,4000,5000],"tickCount":6}},"detail":{"field":"g","type":"nominal"}}},
{"data":{"name":"m"},"transform":[{"filter":"datum.c==16"}],"mark":{"type":"line","color":"#B22222","strokeWidth":2.2},"encoding":{"y":{"field":"y","type":"quantitative","title":null,"scale":{"domain":[-260,5260],"nice":false,"zero":false},"axis":{"values":[0,1000,2000,3000,4000,5000],"tickCount":6}}}},
{"data":{"name":"frame"},"mark":{"type":"rect","fill":"transparent","stroke":"#333333","strokeWidth":1},"encoding":{"x2":{"field":"x2"}}}]}],"spacing":0,"bounds":"flush"},
{"vconcat":[{"width":137,"height":15,"view":{"fill":"#ADD8E6"},"data":{"values":[{"t":"Cluster 17"}]},"mark":{"type":"text","fontSize":9,"fontWeight":"bold","color":"#1A1A1A"},"encoding":{"text":{"field":"t"}}},
{"width":137,"height":144,"encoding":{"x":{"field":"x","type":"quantitative","title":null,"scale":{"domain":[-0.6,26.6],"nice":false,"zero":false},"axis":{"values":[0,1,2,3,4,5,6,7,8,9,10,11,12,13,14,15,16,17,18,19,20,21,22,23,24,25,26],"labelExpr":"['P1_1','P1_2','P1_3','P1_4','P1_5','P1_6','P1_7','P1_8','P2_1','P2_2','P2_3','P2_4','P3_1','P3_2','P3_3','P3_4','P4_1','P4_2','P4_3','P5_1','P5_2','P5_3','P6_1','P6_2','P6_3','P7_1','P7_2'][datum.value]"}}},
"layer":[{"data":{"name":"zone"},"mark":{"type":"rect","color":"#D9D9D9"},"encoding":{"x2":{"field":"x2"}}},{"data":{"name":"sep"},"mark":{"type":"rule","color":"#8C8C8C","strokeDash":[1.2,2],"strokeWidth":0.8},"encoding":{}},
{"data":{"name":"g"},"transform":[{"filter":"datum.c==17"}],"mark":{"type":"line","color":"#000000","opacity":0.28,"strokeWidth":0.6},"encoding":{"y":{"field":"y","type":"quantitative","title":null,"scale":{"domain":[-260,5260],"nice":false,"zero":false},"axis":{"values":[0,1000,2000,3000,4000,5000],"tickCount":6}},"detail":{"field":"g","type":"nominal"}}},
{"data":{"name":"m"},"transform":[{"filter":"datum.c==17"}],"mark":{"type":"line","color":"#B22222","strokeWidth":2.2},"encoding":{"y":{"field":"y","type":"quantitative","title":null,"scale":{"domain":[-260,5260],"nice":false,"zero":false},"axis":{"values":[0,1000,2000,3000,4000,5000],"tickCount":6}}}},
{"data":{"name":"frame"},"mark":{"type":"rect","fill":"transparent","stroke":"#333333","strokeWidth":1},"encoding":{"x2":{"field":"x2"}}}]}],"spacing":0,"bounds":"flush"},
{"vconcat":[{"width":137,"height":15,"view":{"fill":"#ADD8E6"},"data":{"values":[{"t":"Cluster 18"}]},"mark":{"type":"text","fontSize":9,"fontWeight":"bold","color":"#1A1A1A"},"encoding":{"text":{"field":"t"}}},
{"width":137,"height":144,"encoding":{"x":{"field":"x","type":"quantitative","title":null,"scale":{"domain":[-0.6,26.6],"nice":false,"zero":false},"axis":{"values":[0,1,2,3,4,5,6,7,8,9,10,11,12,13,14,15,16,17,18,19,20,21,22,23,24,25,26],"labelExpr":"['P1_1','P1_2','P1_3','P1_4','P1_5','P1_6','P1_7','P1_8','P2_1','P2_2','P2_3','P2_4','P3_1','P3_2','P3_3','P3_4','P4_1','P4_2','P4_3','P5_1','P5_2','P5_3','P6_1','P6_2','P6_3','P7_1','P7_2'][datum.value]"}}},
"layer":[{"data":{"name":"zone"},"mark":{"type":"rect","color":"#D9D9D9"},"encoding":{"x2":{"field":"x2"}}},{"data":{"name":"sep"},"mark":{"type":"rule","color":"#8C8C8C","strokeDash":[1.2,2],"strokeWidth":0.8},"encoding":{}},
{"data":{"name":"g"},"transform":[{"filter":"datum.c==18"}],"mark":{"type":"line","color":"#000000","opacity":0.28,"strokeWidth":0.6},"encoding":{"y":{"field":"y","type":"quantitative","title":null,"scale":{"domain":[-260,5260],"nice":false,"zero":false},"axis":{"values":[0,1000,2000,3000,4000,5000],"tickCount":6}},"detail":{"field":"g","type":"nominal"}}},
{"data":{"name":"m"},"transform":[{"filter":"datum.c==18"}],"mark":{"type":"line","color":"#B22222","strokeWidth":2.2},"encoding":{"y":{"field":"y","type":"quantitative","title":null,"scale":{"domain":[-260,5260],"nice":false,"zero":false},"axis":{"values":[0,1000,2000,3000,4000,5000],"tickCount":6}}}},
{"data":{"name":"frame"},"mark":{"type":"rect","fill":"transparent","stroke":"#333333","strokeWidth":1},"encoding":{"x2":{"field":"x2"}}}]}],"spacing":0,"bounds":"flush"}
],
"columns":6,
"align":"each",
"spacing":{"row":2,"column":2.6},
"config":{
"font":"Liberation Sans",
"numberFormat":"d",
"view":{"stroke":"#333333","strokeWidth":1},
"axis":{"domain":false,"gridColor":"#EBEBEB","gridWidth":0.6,"tickColor":"#333333","tickSize":2.5,"labelColor":"#4D4D4D","labelFontSize":6.3,"labelPadding":1.5},
"axisX":{"labelAngle":-90,"labelFontSize":5.5,"labelOverlap":false,"labelFlush":false,"labelBound":false},
"axisY":{"labelFlush":false,"labelOverlap":false}
}
}
